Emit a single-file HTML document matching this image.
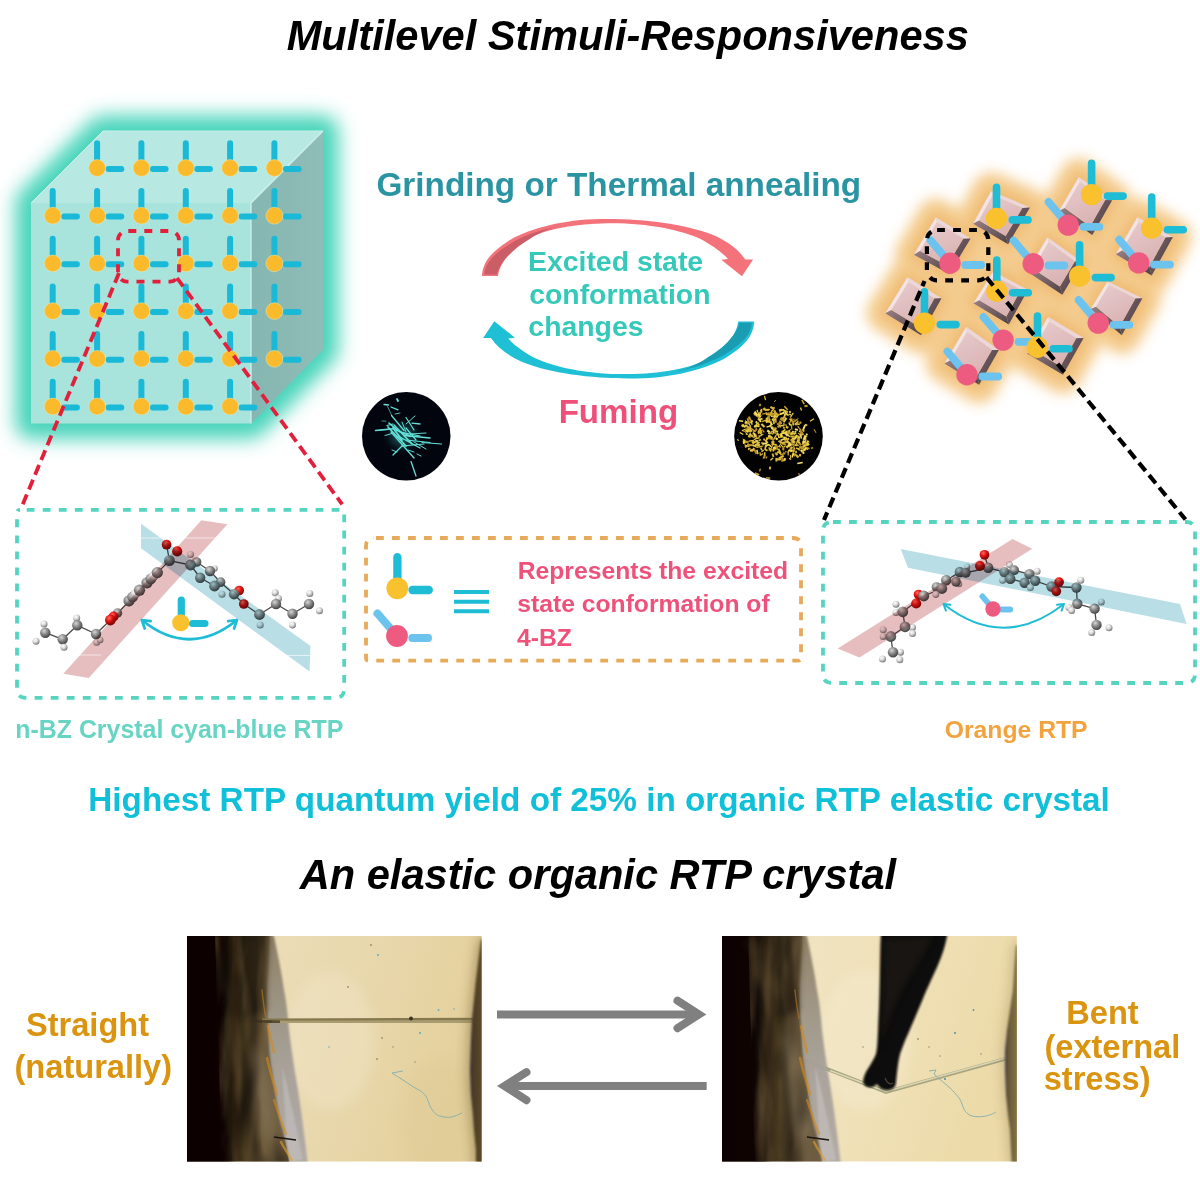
<!DOCTYPE html>
<html lang="en"><head><meta charset="utf-8"><title>Multilevel Stimuli-Responsiveness</title>
<style>
html,body{margin:0;padding:0;background:#fff;}
body{width:1200px;height:1200px;overflow:hidden;position:relative;font-family:"Liberation Sans",sans-serif;}
svg{display:block;position:absolute;left:0;top:0;}
text{font-family:"Liberation Sans",sans-serif;font-weight:bold;}
.ti{font-style:italic;font-size:41.6px;fill:#000;}
</style></head><body>
<svg width="1200" height="1200" viewBox="0 0 1200 1200">
<defs>
<filter id="cglow" x="-20%" y="-20%" width="140%" height="140%"><feGaussianBlur stdDeviation="9.5"/></filter>
<linearGradient id="rface" x1="0" y1="0" x2="1" y2="0"><stop offset="0" stop-color="#86B6B1"/><stop offset="1" stop-color="#8FBDB8"/></linearGradient>
</defs>
<g id="cube">
<polygon points="31,203 103,131 323,131 323,350 251,423.5 31,423.5" fill="#46D4BA" stroke="#46D4BA" stroke-width="31" stroke-linejoin="round" filter="url(#cglow)"/>
<polygon points="31,203 103,131 323,131 251,203" fill="#B7E8E2"/>
<polygon points="31,203 251,203 251,423.5 31,423.5" fill="#A8E3DC"/>
<polygon points="251,203 323,131 323,350 251,423.5" fill="url(#rface)"/>
<polyline points="31,203 103,131 323,131" fill="none" stroke="#C9F0EA" stroke-width="1"/>
<polyline points="251,423.5 251,203 323,131" fill="none" stroke="#CFF0EB" stroke-width="1.3"/>
<path d="M97.1,143.3V168.0M108.6,168.9H121.3M141.4,143.3V168.0M152.9,168.9H165.6M185.8,143.3V168.0M197.2,168.9H209.9M230.1,143.3V168.0M241.6,168.9H254.3M274.4,143.3V168.0M285.9,168.9H298.6M52.7,191.0V215.7M64.2,216.6H76.9M97.1,191.0V215.7M108.6,216.6H121.3M141.4,191.0V215.7M152.9,216.6H165.6M185.8,191.0V215.7M197.2,216.6H209.9M230.1,191.0V215.7M241.6,216.6H254.3M274.4,191.0V215.7M285.9,216.6H298.6M52.7,238.7V263.4M64.2,264.3H76.9M97.1,238.7V263.4M108.6,264.3H121.3M141.4,238.7V263.4M152.9,264.3H165.6M185.8,238.7V263.4M197.2,264.3H209.9M230.1,238.7V263.4M241.6,264.3H254.3M274.4,238.7V263.4M285.9,264.3H298.6M52.7,286.4V311.1M64.2,312.0H76.9M97.1,286.4V311.1M108.6,312.0H121.3M141.4,286.4V311.1M152.9,312.0H165.6M185.8,286.4V311.1M197.2,312.0H209.9M230.1,286.4V311.1M241.6,312.0H254.3M274.4,286.4V311.1M285.9,312.0H298.6M52.7,334.1V358.8M64.2,359.7H76.9M97.1,334.1V358.8M108.6,359.7H121.3M141.4,334.1V358.8M152.9,359.7H165.6M185.8,334.1V358.8M197.2,359.7H209.9M230.1,334.1V358.8M241.6,359.7H254.3M274.4,334.1V358.8M285.9,359.7H298.6M52.7,381.8V406.5M64.2,407.4H76.9M97.1,381.8V406.5M108.6,407.4H121.3M141.4,381.8V406.5M152.9,407.4H165.6M185.8,381.8V406.5M197.2,407.4H209.9M230.1,381.8V406.5M241.6,407.4H254.3" stroke="#19B9D7" stroke-width="6" stroke-linecap="round" fill="none"/>
<g fill="#FBB92C" stroke="#E9F3C0" stroke-opacity="0.55" stroke-width="0.8"><circle cx="97.1" cy="168.0" r="8.4"/><circle cx="141.4" cy="168.0" r="8.4"/><circle cx="185.8" cy="168.0" r="8.4"/><circle cx="230.1" cy="168.0" r="8.4"/><circle cx="274.4" cy="168.0" r="8.4"/><circle cx="52.7" cy="215.7" r="8.4"/><circle cx="97.1" cy="215.7" r="8.4"/><circle cx="141.4" cy="215.7" r="8.4"/><circle cx="185.8" cy="215.7" r="8.4"/><circle cx="230.1" cy="215.7" r="8.4"/><circle cx="274.4" cy="215.7" r="8.4"/><circle cx="52.7" cy="263.4" r="8.4"/><circle cx="97.1" cy="263.4" r="8.4"/><circle cx="141.4" cy="263.4" r="8.4"/><circle cx="185.8" cy="263.4" r="8.4"/><circle cx="230.1" cy="263.4" r="8.4"/><circle cx="274.4" cy="263.4" r="8.4"/><circle cx="52.7" cy="311.1" r="8.4"/><circle cx="97.1" cy="311.1" r="8.4"/><circle cx="141.4" cy="311.1" r="8.4"/><circle cx="185.8" cy="311.1" r="8.4"/><circle cx="230.1" cy="311.1" r="8.4"/><circle cx="274.4" cy="311.1" r="8.4"/><circle cx="52.7" cy="358.8" r="8.4"/><circle cx="97.1" cy="358.8" r="8.4"/><circle cx="141.4" cy="358.8" r="8.4"/><circle cx="185.8" cy="358.8" r="8.4"/><circle cx="230.1" cy="358.8" r="8.4"/><circle cx="274.4" cy="358.8" r="8.4"/><circle cx="52.7" cy="406.5" r="8.4"/><circle cx="97.1" cy="406.5" r="8.4"/><circle cx="141.4" cy="406.5" r="8.4"/><circle cx="185.8" cy="406.5" r="8.4"/><circle cx="230.1" cy="406.5" r="8.4"/></g>
<g fill="none" stroke="#E2203C" stroke-width="3.8">
<rect x="118" y="231" width="61" height="50.7" rx="9" ry="9" stroke-dasharray="8 8" stroke-dashoffset="-1.3"/>
<path d="M119,273L22.5,505" stroke-dasharray="10.5 5.5"/>
<path d="M177,278L342.2,504.4" stroke-dasharray="10.5 5.5"/>
</g>
</g>
<defs><clipPath id="cl1"><circle cx="406.25" cy="436.25" r="44.25"/></clipPath><clipPath id="cl2"><circle cx="778.5" cy="436.25" r="44.3"/></clipPath>
<filter id="b1" x="-30%" y="-30%" width="160%" height="160%"><feGaussianBlur stdDeviation="0.45"/></filter><filter id="b3" x="-50%" y="-50%" width="200%" height="200%"><feGaussianBlur stdDeviation="4"/></filter></defs>
<g id="cycle">
<path d="M482,276 C482.5,262 492,251 510,240 C530,228 565,219.5 600,219 C640,218.2 685,223.8 712,234.6 C728,241.6 738,249.2 745.25,259.4 L753.1,259.4 L741.9,276.25 L721.3,259.75 L728,259 C722,252 712,245.5 702.5,240 C682,230 648,223.3 612,223.3 C585,223.3 550,227 530,238 C515,246.5 500,260 498,276 Z" fill="#F4737B"/>
<path d="M484.3,274.6 C485,263 494,253.5 511.5,243 C525,235 543,229 562,225.6 C548,228.5 538,233.5 530.5,238.6 C516,247 500,260.5 496.8,274.6 Z" fill="#CB5D66"/>
<g transform="rotate(180 618.1 298.7)"><path d="M482,276 C482.5,262 492,251 510,240 C530,228 565,219.5 600,219 C640,218.2 685,223.8 712,234.6 C728,241.6 738,249.2 745.25,259.4 L753.1,259.4 L741.9,276.25 L721.3,259.75 L728,259 C722,252 712,245.5 702.5,240 C682,230 648,223.3 612,223.3 C585,223.3 550,227 530,238 C515,246.5 500,260 498,276 Z" fill="#1FBFD6"/>
<path d="M484.3,274.6 C485,263 494,253.5 511.5,243 C525,235 543,229 562,225.6 C548,228.5 538,233.5 530.5,238.6 C516,247 500,260.5 496.8,274.6 Z" fill="#1A9DB2"/>
</g>
</g>
<g id="cyanCrystals"><circle cx="406.25" cy="436.25" r="44.25" fill="#03050E"/>
<g clip-path="url(#cl1)"><ellipse cx="403" cy="436" rx="13" ry="11" fill="#3FCFC8" opacity="0.35" filter="url(#b3)"/><g stroke="#63E2D9" stroke-linecap="round" fill="none" filter="url(#b1)"><path d="M384.0,404.5L388.5,405.0" stroke-width="1.28"/><path d="M391.0,407.0L398.0,409.8" stroke-width="1.28"/><path d="M387.5,406.5L392.0,416.0" stroke-width="0.64"/><path d="M391.5,415.5L404.0,430.5" stroke-width="1.20"/><path d="M395.0,414.0L400.0,413.0" stroke-width="0.80"/><path d="M406.0,417.5L414.0,430.0" stroke-width="1.20"/><path d="M406.0,424.0L415.0,416.0" stroke-width="0.96"/><path d="M412.0,423.2L420.0,424.0" stroke-width="1.28"/><path d="M382.0,421.0L386.0,421.2" stroke-width="0.64"/><path d="M375.5,430.5L393.0,428.8" stroke-width="1.44"/><path d="M387.0,425.5L393.0,424.0" stroke-width="1.20"/><path d="M385.0,435.5L392.0,433.5" stroke-width="0.96"/><path d="M388.0,427.0L406.0,446.0" stroke-width="1.76"/><path d="M391.0,432.0L414.0,458.0" stroke-width="1.28"/><path d="M394.0,425.0L412.0,444.0" stroke-width="1.60"/><path d="M400.0,432.0L420.0,436.0" stroke-width="1.20"/><path d="M404.0,435.5L430.0,438.0" stroke-width="1.44"/><path d="M406.0,440.0L430.0,442.5" stroke-width="1.20"/><path d="M422.0,442.5L441.5,444.0" stroke-width="1.12"/><path d="M402.0,446.0L424.0,444.0" stroke-width="1.20"/><path d="M410.0,434.0L426.0,433.0" stroke-width="0.96"/><path d="M393.0,455.0L403.0,445.0" stroke-width="1.20"/><path d="M392.0,450.0L397.0,452.0" stroke-width="0.96"/><path d="M411.0,461.5L416.0,476.0" stroke-width="1.28"/><path d="M408.0,450.0L414.0,452.0" stroke-width="0.96"/><path d="M417.0,454.0L421.0,456.0" stroke-width="0.96"/><path d="M397.0,399.0L398.0,401.0" stroke-width="1.76"/><path d="M406.0,428.0L416.0,440.0" stroke-width="1.20"/><path d="M398.0,436.0L420.0,448.0" stroke-width="1.28"/><path d="M414.0,442.0L426.0,449.0" stroke-width="0.96"/><path d="M389.0,423.0L397.0,430.0" stroke-width="1.60"/><path d="M393.0,428.0L402.0,440.0" stroke-width="1.76"/><path d="M396.0,430.0L410.0,436.0" stroke-width="1.60"/><path d="M402.0,422.0L406.0,432.0" stroke-width="0.96"/><path d="M380.0,430.0L388.0,429.5" stroke-width="1.12"/></g></g></g>
<g id="yellowCrystals"><circle cx="778.5" cy="436.25" r="44.3" fill="#020202"/>
<g clip-path="url(#cl2)" filter="url(#b1)"><path d="M765.5,441.2L767.9,442.9" stroke="#E6C436" stroke-width="2.1"/><path d="M773.0,426.9L772.0,429.2" stroke="#DDB840" stroke-width="1.8"/><path d="M755.5,428.1L757.1,428.3" stroke="#E6C436" stroke-width="1.1"/><path d="M798.1,441.9L801.2,445.2" stroke="#B58A2A" stroke-width="2.1"/><path d="M797.5,439.5L798.7,442.1" stroke="#E6C436" stroke-width="2.1"/><path d="M785.1,437.1L788.1,440.3" stroke="#E8CE48" stroke-width="1.4"/><path d="M743.8,439.4L746.4,443.0" stroke="#D9B02E" stroke-width="1.7"/><path d="M788.2,444.3L790.7,444.4" stroke="#F3E070" stroke-width="1.6"/><path d="M756.5,413.2L753.4,413.6" stroke="#DDB840" stroke-width="1.3"/><path d="M759.4,423.8L757.7,425.0" stroke="#E6C436" stroke-width="1.6"/><path d="M783.2,432.6L779.6,435.2" stroke="#F0D955" stroke-width="2.0"/><path d="M784.1,422.8L783.1,425.5" stroke="#B58A2A" stroke-width="1.4"/><path d="M786.6,441.0L783.6,443.5" stroke="#DDB840" stroke-width="1.6"/><path d="M762.8,453.5L761.1,455.2" stroke="#E6C436" stroke-width="1.1"/><path d="M788.1,451.7L788.3,455.4" stroke="#DDB840" stroke-width="1.2"/><path d="M767.2,419.6L762.1,421.6" stroke="#D9B02E" stroke-width="1.3"/><path d="M767.3,430.3L769.8,432.3" stroke="#F3E070" stroke-width="2.2"/><path d="M790.5,439.8L792.3,440.8" stroke="#C29A2C" stroke-width="1.6"/><path d="M769.6,416.0L766.2,419.5" stroke="#D9B02E" stroke-width="1.8"/><path d="M763.7,450.0L761.6,451.7" stroke="#E8CE48" stroke-width="1.3"/><path d="M754.7,433.7L756.4,437.8" stroke="#C29A2C" stroke-width="1.2"/><path d="M780.2,413.2L782.3,414.5" stroke="#C29A2C" stroke-width="1.3"/><path d="M775.4,452.5L777.0,455.2" stroke="#C29A2C" stroke-width="2.2"/><path d="M745.0,425.7L744.1,427.4" stroke="#E6C436" stroke-width="1.6"/><path d="M771.8,419.4L775.0,420.5" stroke="#F3E070" stroke-width="2.0"/><path d="M786.7,434.0L785.1,434.4" stroke="#D9B02E" stroke-width="1.4"/><path d="M744.7,441.4L748.6,442.0" stroke="#C29A2C" stroke-width="2.0"/><path d="M793.0,450.5L790.1,451.2" stroke="#F3E070" stroke-width="2.0"/><path d="M804.1,440.4L802.6,444.8" stroke="#E6C436" stroke-width="1.8"/><path d="M775.0,414.0L778.6,415.3" stroke="#C29A2C" stroke-width="1.7"/><path d="M784.1,424.8L786.9,425.2" stroke="#E8CE48" stroke-width="1.1"/><path d="M765.9,414.0L770.3,414.6" stroke="#E6C436" stroke-width="2.1"/><path d="M758.7,422.6L756.1,424.3" stroke="#E8CE48" stroke-width="1.4"/><path d="M789.2,414.3L790.8,414.7" stroke="#F3E070" stroke-width="1.6"/><path d="M745.8,433.8L747.6,434.2" stroke="#F0D955" stroke-width="1.5"/><path d="M803.9,444.7L803.1,446.4" stroke="#E8CE48" stroke-width="1.2"/><path d="M757.1,409.9L757.8,412.5" stroke="#E6C436" stroke-width="1.4"/><path d="M779.5,420.6L781.6,423.8" stroke="#DDB840" stroke-width="1.4"/><path d="M748.8,445.0L753.4,445.2" stroke="#C29A2C" stroke-width="2.0"/><path d="M798.2,437.9L799.2,440.8" stroke="#DDB840" stroke-width="2.1"/><path d="M784.8,442.3L781.8,443.2" stroke="#DDB840" stroke-width="2.0"/><path d="M805.2,444.4L804.4,447.3" stroke="#F0D955" stroke-width="1.9"/><path d="M787.8,445.1L791.5,445.2" stroke="#DDB840" stroke-width="1.8"/><path d="M745.6,445.5L749.4,446.6" stroke="#F0D955" stroke-width="1.4"/><path d="M796.3,444.6L798.7,445.7" stroke="#D9B02E" stroke-width="1.6"/><path d="M744.7,422.5L748.0,423.7" stroke="#C29A2C" stroke-width="2.0"/><path d="M784.6,411.4L787.4,415.4" stroke="#F3E070" stroke-width="1.1"/><path d="M769.0,448.3L771.1,451.5" stroke="#D9B02E" stroke-width="1.8"/><path d="M753.8,449.6L750.0,450.8" stroke="#F0D955" stroke-width="2.0"/><path d="M787.3,430.5L785.2,434.9" stroke="#C29A2C" stroke-width="1.7"/><path d="M785.7,445.8L783.8,446.9" stroke="#DDB840" stroke-width="1.3"/><path d="M779.1,452.2L777.1,452.6" stroke="#F0D955" stroke-width="1.4"/><path d="M761.4,423.9L764.5,427.0" stroke="#E6C436" stroke-width="2.1"/><path d="M799.4,436.2L794.9,438.0" stroke="#B58A2A" stroke-width="1.8"/><path d="M752.8,445.2L756.4,446.6" stroke="#E8CE48" stroke-width="1.7"/><path d="M801.0,429.5L799.8,432.0" stroke="#DDB840" stroke-width="1.3"/><path d="M749.8,427.4L748.2,430.3" stroke="#E6C436" stroke-width="1.5"/><path d="M771.1,428.4L776.6,428.5" stroke="#F3E070" stroke-width="1.6"/><path d="M798.1,421.5L794.7,424.6" stroke="#F0D955" stroke-width="1.5"/><path d="M794.7,418.9L792.1,420.6" stroke="#B58A2A" stroke-width="1.1"/><path d="M755.1,441.0L755.5,442.8" stroke="#E6C436" stroke-width="1.5"/><path d="M798.4,449.3L800.4,449.6" stroke="#B58A2A" stroke-width="2.1"/><path d="M786.6,436.7L783.9,438.9" stroke="#DDB840" stroke-width="1.1"/><path d="M781.1,442.7L778.9,446.8" stroke="#D9B02E" stroke-width="1.0"/><path d="M770.3,438.2L765.9,438.2" stroke="#C29A2C" stroke-width="2.0"/><path d="M785.9,434.6L790.5,436.6" stroke="#F0D955" stroke-width="1.3"/><path d="M795.6,443.8L793.1,447.5" stroke="#B58A2A" stroke-width="1.3"/><path d="M807.8,440.6L806.9,442.9" stroke="#E8CE48" stroke-width="1.4"/><path d="M769.7,426.1L766.5,427.1" stroke="#F3E070" stroke-width="1.3"/><path d="M773.6,448.5L775.6,450.1" stroke="#B58A2A" stroke-width="1.6"/><path d="M763.7,438.5L764.6,440.6" stroke="#E8CE48" stroke-width="1.5"/><path d="M793.3,412.8L790.5,417.1" stroke="#E8CE48" stroke-width="1.2"/><path d="M749.0,434.3L752.3,435.6" stroke="#B58A2A" stroke-width="1.8"/><path d="M788.6,439.5L785.3,439.9" stroke="#D9B02E" stroke-width="1.6"/><path d="M761.3,442.4L763.9,445.0" stroke="#B58A2A" stroke-width="2.0"/><path d="M777.1,423.3L780.8,427.3" stroke="#B58A2A" stroke-width="1.7"/><path d="M808.2,440.9L809.1,442.5" stroke="#E6C436" stroke-width="1.3"/><path d="M762.2,429.4L764.3,432.3" stroke="#B58A2A" stroke-width="1.4"/><path d="M772.7,430.7L769.7,434.1" stroke="#E8CE48" stroke-width="1.3"/><path d="M743.5,424.1L742.4,427.1" stroke="#E6C436" stroke-width="1.6"/><path d="M789.5,419.0L791.7,419.9" stroke="#E6C436" stroke-width="1.8"/><path d="M771.3,449.2L775.0,449.8" stroke="#B58A2A" stroke-width="1.4"/><path d="M792.6,454.3L792.3,457.5" stroke="#F0D955" stroke-width="1.4"/><path d="M745.2,424.8L748.4,427.1" stroke="#F0D955" stroke-width="1.6"/><path d="M762.4,443.4L767.1,443.6" stroke="#F3E070" stroke-width="1.8"/><path d="M783.7,410.8L787.6,412.0" stroke="#E8CE48" stroke-width="2.0"/><path d="M790.1,416.0L790.9,418.4" stroke="#B58A2A" stroke-width="1.0"/><path d="M785.5,413.0L784.3,416.7" stroke="#F3E070" stroke-width="1.7"/><path d="M777.6,451.2L781.2,454.8" stroke="#E6C436" stroke-width="1.1"/><path d="M768.2,435.5L768.9,437.9" stroke="#D9B02E" stroke-width="1.1"/><path d="M791.9,438.6L795.6,438.7" stroke="#F0D955" stroke-width="2.1"/><path d="M772.5,453.6L773.5,457.1" stroke="#DDB840" stroke-width="1.8"/><path d="M796.3,431.1L794.4,432.4" stroke="#E8CE48" stroke-width="1.4"/><path d="M805.1,425.0L803.0,430.1" stroke="#F3E070" stroke-width="1.9"/><path d="M793.6,431.2L792.6,432.4" stroke="#F3E070" stroke-width="2.0"/><path d="M777.1,446.1L781.1,447.2" stroke="#D9B02E" stroke-width="1.2"/><path d="M780.5,444.4L783.3,447.4" stroke="#E8CE48" stroke-width="1.1"/><path d="M755.8,413.3L754.3,415.3" stroke="#DDB840" stroke-width="1.7"/><path d="M786.4,417.9L783.5,422.2" stroke="#E8CE48" stroke-width="2.2"/><path d="M761.6,410.8L759.3,415.6" stroke="#E6C436" stroke-width="1.3"/><path d="M799.2,446.6L803.6,449.2" stroke="#C29A2C" stroke-width="2.0"/><path d="M799.9,424.0L795.4,424.8" stroke="#DDB840" stroke-width="1.4"/><path d="M774.4,415.0L775.6,417.1" stroke="#F3E070" stroke-width="2.1"/><path d="M790.3,454.9L790.6,458.5" stroke="#E6C436" stroke-width="1.0"/><path d="M756.9,449.9L757.8,454.2" stroke="#E8CE48" stroke-width="1.7"/><path d="M796.2,432.6L793.8,434.4" stroke="#F0D955" stroke-width="1.7"/><path d="M744.5,444.8L746.0,445.5" stroke="#F0D955" stroke-width="1.1"/><path d="M773.2,422.3L774.2,424.2" stroke="#E6C436" stroke-width="1.0"/><path d="M785.4,441.8L789.1,443.6" stroke="#D9B02E" stroke-width="1.1"/><path d="M798.0,422.9L796.8,424.2" stroke="#B58A2A" stroke-width="1.7"/><path d="M794.5,453.8L798.8,456.9" stroke="#D9B02E" stroke-width="1.6"/><path d="M803.7,433.8L799.5,435.4" stroke="#DDB840" stroke-width="1.9"/><path d="M756.2,447.0L758.4,447.8" stroke="#E6C436" stroke-width="1.1"/><path d="M783.3,436.6L778.2,437.4" stroke="#D9B02E" stroke-width="1.9"/><path d="M802.6,432.2L799.2,434.3" stroke="#D9B02E" stroke-width="1.3"/><path d="M741.5,425.1L745.7,427.0" stroke="#E8CE48" stroke-width="1.8"/><path d="M742.9,438.7L744.6,441.4" stroke="#E8CE48" stroke-width="1.0"/><path d="M780.6,423.8L778.9,424.2" stroke="#B58A2A" stroke-width="1.9"/><path d="M776.2,446.7L773.3,449.3" stroke="#E8CE48" stroke-width="1.6"/><path d="M777.2,453.3L776.6,454.9" stroke="#DDB840" stroke-width="1.5"/><path d="M773.4,449.7L773.3,451.5" stroke="#E6C436" stroke-width="1.6"/><path d="M800.2,454.0L799.9,456.4" stroke="#D9B02E" stroke-width="2.0"/><path d="M758.4,444.7L757.8,447.3" stroke="#C29A2C" stroke-width="1.5"/><path d="M748.2,416.8L751.0,420.4" stroke="#B58A2A" stroke-width="1.1"/><path d="M743.8,440.4L743.9,443.9" stroke="#F0D955" stroke-width="2.0"/><path d="M752.2,430.6L748.3,431.0" stroke="#E8CE48" stroke-width="2.1"/><path d="M771.5,432.0L771.0,434.1" stroke="#C29A2C" stroke-width="2.0"/><path d="M759.4,435.2L759.4,437.2" stroke="#D9B02E" stroke-width="1.8"/><path d="M805.5,435.5L805.6,441.0" stroke="#D9B02E" stroke-width="1.7"/><path d="M789.0,450.1L787.9,452.8" stroke="#DDB840" stroke-width="1.5"/><path d="M774.1,413.7L769.9,415.2" stroke="#E6C436" stroke-width="1.5"/><path d="M760.8,447.7L761.8,450.2" stroke="#F0D955" stroke-width="1.5"/><path d="M747.7,420.6L749.6,425.3" stroke="#F3E070" stroke-width="1.3"/><path d="M796.1,448.0L799.7,449.5" stroke="#E6C436" stroke-width="1.8"/><path d="M774.6,446.5L775.9,449.0" stroke="#F3E070" stroke-width="1.2"/><path d="M778.6,414.0L776.5,417.9" stroke="#F3E070" stroke-width="1.2"/><path d="M750.4,421.3L749.0,423.4" stroke="#B58A2A" stroke-width="1.3"/><path d="M791.3,424.4L791.9,429.5" stroke="#C29A2C" stroke-width="1.3"/><path d="M758.1,418.5L761.1,421.8" stroke="#F0D955" stroke-width="2.0"/><path d="M749.0,427.0L745.5,431.1" stroke="#B58A2A" stroke-width="1.9"/><path d="M748.4,435.9L750.8,437.2" stroke="#D9B02E" stroke-width="1.2"/><path d="M739.7,432.4L743.3,434.5" stroke="#F0D955" stroke-width="1.2"/><path d="M769.1,409.8L764.5,410.0" stroke="#DDB840" stroke-width="1.9"/><path d="M788.6,430.3L789.8,431.7" stroke="#E8CE48" stroke-width="2.1"/><path d="M745.1,420.4L747.5,422.3" stroke="#DDB840" stroke-width="1.0"/><path d="M780.5,425.6L777.6,427.1" stroke="#E8CE48" stroke-width="1.3"/><path d="M794.2,447.3L794.4,449.3" stroke="#DDB840" stroke-width="1.7"/><path d="M791.1,441.7L793.6,441.7" stroke="#DDB840" stroke-width="2.0"/><path d="M804.2,445.7L800.5,447.7" stroke="#C29A2C" stroke-width="1.8"/><path d="M781.7,408.9L779.5,412.3" stroke="#B58A2A" stroke-width="1.5"/><path d="M792.6,452.9L795.5,456.0" stroke="#C29A2C" stroke-width="2.1"/><path d="M772.5,423.8L769.2,426.6" stroke="#E8CE48" stroke-width="1.8"/><path d="M798.3,418.7L795.3,420.2" stroke="#DDB840" stroke-width="1.0"/><path d="M782.5,457.7L782.3,461.9" stroke="#B58A2A" stroke-width="2.0"/><path d="M754.3,441.2L751.9,443.2" stroke="#D9B02E" stroke-width="1.6"/><path d="M803.8,435.9L807.4,436.4" stroke="#C29A2C" stroke-width="1.2"/><path d="M789.5,449.3L789.4,451.2" stroke="#C29A2C" stroke-width="1.7"/><path d="M757.0,428.8L754.8,431.6" stroke="#B58A2A" stroke-width="1.8"/><path d="M783.4,447.3L783.2,450.4" stroke="#C29A2C" stroke-width="2.1"/><path d="M776.3,430.4L774.1,430.5" stroke="#D9B02E" stroke-width="1.6"/><path d="M756.9,424.4L754.3,427.4" stroke="#E8CE48" stroke-width="1.8"/><path d="M794.1,436.9L796.1,439.3" stroke="#DDB840" stroke-width="1.0"/><path d="M762.6,418.7L758.7,419.7" stroke="#E8CE48" stroke-width="1.8"/><path d="M806.9,447.7L809.5,448.6" stroke="#C29A2C" stroke-width="1.5"/><path d="M784.3,409.9L778.9,410.0" stroke="#F0D955" stroke-width="1.6"/><path d="M789.6,443.3L793.9,445.1" stroke="#C29A2C" stroke-width="2.0"/><path d="M805.3,441.4L805.7,445.2" stroke="#F0D955" stroke-width="1.3"/><path d="M771.8,441.2L773.6,444.8" stroke="#DDB840" stroke-width="2.0"/><path d="M743.7,440.6L744.0,443.2" stroke="#F0D955" stroke-width="1.7"/><path d="M781.3,421.5L778.7,423.7" stroke="#C29A2C" stroke-width="1.9"/><path d="M796.1,455.6L798.1,457.9" stroke="#DDB840" stroke-width="1.3"/><path d="M752.5,420.4L750.7,423.3" stroke="#E8CE48" stroke-width="2.0"/><path d="M783.7,436.6L785.5,440.3" stroke="#F3E070" stroke-width="1.4"/><path d="M768.3,415.6L769.2,419.5" stroke="#B58A2A" stroke-width="1.8"/><path d="M805.7,448.3L808.2,449.5" stroke="#D9B02E" stroke-width="1.5"/><path d="M760.0,413.2L755.6,415.8" stroke="#F0D955" stroke-width="1.9"/><path d="M804.9,448.2L804.7,451.1" stroke="#E6C436" stroke-width="1.7"/><path d="M805.4,447.0L806.8,448.1" stroke="#D9B02E" stroke-width="1.4"/><path d="M755.0,433.5L753.8,438.2" stroke="#F3E070" stroke-width="1.2"/><path d="M745.4,421.4L746.4,423.3" stroke="#F0D955" stroke-width="2.1"/><path d="M773.7,441.0L772.2,445.0" stroke="#D9B02E" stroke-width="2.2"/><path d="M760.9,427.8L758.3,432.2" stroke="#E8CE48" stroke-width="1.9"/><path d="M786.8,441.0L790.2,443.5" stroke="#F3E070" stroke-width="1.6"/><path d="M791.8,438.7L790.8,440.4" stroke="#DDB840" stroke-width="1.1"/><path d="M765.0,445.5L766.5,446.9" stroke="#E6C436" stroke-width="1.6"/><path d="M775.6,417.6L775.9,422.7" stroke="#C29A2C" stroke-width="1.8"/><path d="M760.7,430.4L760.7,434.1" stroke="#E6C436" stroke-width="2.0"/><path d="M768.3,435.5L770.8,436.9" stroke="#F3E070" stroke-width="1.8"/><path d="M776.2,435.1L773.8,439.3" stroke="#DDB840" stroke-width="1.4"/><path d="M775.1,414.6L770.9,414.6" stroke="#B58A2A" stroke-width="1.2"/><path d="M786.1,451.2L785.4,452.7" stroke="#B58A2A" stroke-width="1.7"/><path d="M783.7,431.0L782.2,432.1" stroke="#F0D955" stroke-width="1.6"/><path d="M779.9,419.1L784.3,419.6" stroke="#B58A2A" stroke-width="1.8"/><path d="M741.8,430.4L745.7,431.6" stroke="#C29A2C" stroke-width="1.4"/><path d="M752.2,441.8L754.0,444.0" stroke="#E6C436" stroke-width="1.3"/><path d="M765.4,408.2L763.1,409.6" stroke="#DDB840" stroke-width="2.0"/><path d="M753.8,449.1L756.5,453.8" stroke="#B58A2A" stroke-width="2.0"/><path d="M771.3,413.2L767.2,413.5" stroke="#B58A2A" stroke-width="2.0"/><path d="M753.9,439.1L757.4,441.6" stroke="#D9B02E" stroke-width="1.2"/><path d="M789.1,438.2L787.8,439.3" stroke="#DDB840" stroke-width="1.9"/><path d="M803.9,446.2L803.6,447.9" stroke="#E6C436" stroke-width="1.4"/><path d="M771.9,444.1L776.7,444.8" stroke="#E6C436" stroke-width="1.6"/><path d="M806.5,448.0L802.5,451.2" stroke="#F0D955" stroke-width="1.7"/><path d="M792.0,418.5L790.3,422.4" stroke="#D9B02E" stroke-width="1.7"/><path d="M768.9,444.7L772.1,447.3" stroke="#F0D955" stroke-width="1.5"/><path d="M766.2,449.7L768.4,450.4" stroke="#D9B02E" stroke-width="1.0"/><path d="M792.2,449.8L788.2,450.9" stroke="#F0D955" stroke-width="1.4"/><path d="M773.2,457.9L770.3,460.2" stroke="#E8CE48" stroke-width="1.3"/><path d="M798.1,433.1L799.4,434.0" stroke="#E6C436" stroke-width="1.0"/><path d="M776.4,457.9L776.4,461.5" stroke="#DDB840" stroke-width="2.0"/><path d="M766.1,444.8L764.9,449.8" stroke="#E6C436" stroke-width="1.5"/><path d="M797.1,435.0L795.0,438.3" stroke="#F0D955" stroke-width="2.2"/><path d="M750.1,432.4L750.4,435.5" stroke="#F3E070" stroke-width="1.1"/><path d="M783.2,452.0L784.9,453.3" stroke="#E6C436" stroke-width="1.0"/><path d="M790.6,436.5L794.7,436.6" stroke="#D9B02E" stroke-width="2.2"/><path d="M795.1,444.7L796.6,445.9" stroke="#E8CE48" stroke-width="1.6"/><path d="M782.2,434.8L780.6,436.7" stroke="#F0D955" stroke-width="1.9"/><path d="M769.1,444.6L766.2,445.3" stroke="#F0D955" stroke-width="1.9"/><path d="M757.0,421.4L755.8,422.8" stroke="#F3E070" stroke-width="1.8"/><path d="M774.8,410.3L775.4,415.5" stroke="#E6C436" stroke-width="1.3"/><path d="M770.0,408.9L769.0,410.1" stroke="#D9B02E" stroke-width="1.0"/><path d="M756.7,440.1L757.6,442.6" stroke="#F3E070" stroke-width="1.7"/><path d="M788.0,433.2L787.0,435.8" stroke="#F3E070" stroke-width="2.1"/><path d="M771.4,411.9L771.7,414.1" stroke="#D9B02E" stroke-width="2.2"/><path d="M805.6,442.4L807.3,446.1" stroke="#DDB840" stroke-width="1.8"/><path d="M792.9,420.9L793.2,425.5" stroke="#E8CE48" stroke-width="1.5"/><path d="M774.0,409.2L771.0,411.6" stroke="#E6C436" stroke-width="1.4"/><path d="M794.5,448.8L793.0,452.6" stroke="#B58A2A" stroke-width="2.0"/><path d="M746.1,428.8L742.1,430.5" stroke="#F0D955" stroke-width="1.0"/><path d="M783.9,411.5L783.1,414.1" stroke="#C29A2C" stroke-width="1.5"/><path d="M749.1,416.6L750.7,420.6" stroke="#C29A2C" stroke-width="1.7"/><path d="M766.7,412.4L764.6,413.9" stroke="#E8CE48" stroke-width="1.0"/><path d="M775.8,437.9L777.2,439.5" stroke="#E6C436" stroke-width="2.1"/><path d="M791.0,446.8L792.3,448.4" stroke="#F0D955" stroke-width="2.1"/><path d="M800.9,450.0L804.1,453.7" stroke="#F3E070" stroke-width="2.0"/><path d="M751.4,423.0L752.3,424.6" stroke="#DDB840" stroke-width="1.7"/><path d="M756.5,415.4L760.1,418.0" stroke="#C29A2C" stroke-width="2.1"/><path d="M772.2,433.1L773.1,434.5" stroke="#C29A2C" stroke-width="1.5"/><path d="M783.9,412.9L780.1,413.8" stroke="#DDB840" stroke-width="1.0"/><path d="M750.1,429.8L750.4,431.6" stroke="#D9B02E" stroke-width="2.0"/><path d="M771.6,426.9L774.4,429.4" stroke="#B58A2A" stroke-width="2.1"/><path d="M773.9,419.0L774.2,422.8" stroke="#C29A2C" stroke-width="1.2"/><path d="M790.8,441.5L795.3,442.9" stroke="#B58A2A" stroke-width="1.3"/><path d="M773.2,420.5L774.3,423.9" stroke="#E6C436" stroke-width="1.2"/><path d="M774.9,407.7L771.6,408.6" stroke="#B58A2A" stroke-width="2.0"/><path d="M754.7,429.9L752.8,434.2" stroke="#E6C436" stroke-width="1.2"/><path d="M745.5,431.8L747.2,435.0" stroke="#E6C436" stroke-width="1.0"/><path d="M775.2,412.5L779.2,415.5" stroke="#C29A2C" stroke-width="1.7"/><path d="M770.4,426.3L773.6,429.7" stroke="#F3E070" stroke-width="1.5"/><path d="M790.0,444.5L786.4,447.6" stroke="#E8CE48" stroke-width="2.2"/><path d="M775.7,418.9L773.2,420.3" stroke="#DDB840" stroke-width="2.2"/><path d="M773.0,432.4L774.6,432.9" stroke="#F3E070" stroke-width="1.7"/><path d="M793.3,438.8L793.5,443.7" stroke="#DDB840" stroke-width="2.1"/><path d="M766.3,413.1L762.1,414.1" stroke="#B58A2A" stroke-width="1.1"/><path d="M769.6,418.8L768.8,422.8" stroke="#DDB840" stroke-width="2.1"/><path d="M750.5,428.1L754.6,430.8" stroke="#C29A2C" stroke-width="1.4"/><path d="M763.5,434.3L761.1,434.4" stroke="#E8CE48" stroke-width="1.0"/><path d="M784.8,427.7L783.1,428.0" stroke="#E6C436" stroke-width="1.7"/><path d="M807.5,434.0L806.0,434.8" stroke="#F3E070" stroke-width="1.9"/><path d="M797.5,438.6L799.6,438.9" stroke="#C29A2C" stroke-width="1.9"/><path d="M787.6,411.1L786.2,413.4" stroke="#D9B02E" stroke-width="1.7"/><path d="M756.3,434.5L756.6,437.5" stroke="#B58A2A" stroke-width="1.5"/><path d="M784.6,458.6L784.8,460.7" stroke="#F0D955" stroke-width="1.3"/><path d="M785.2,453.5L780.3,454.8" stroke="#C29A2C" stroke-width="1.6"/><path d="M794.3,450.2L792.6,451.5" stroke="#D9B02E" stroke-width="2.0"/><path d="M787.6,431.9L782.7,433.0" stroke="#F0D955" stroke-width="2.1"/><path d="M785.1,416.5L781.0,419.9" stroke="#DDB840" stroke-width="2.1"/><path d="M795.4,421.1L791.9,423.0" stroke="#B58A2A" stroke-width="1.5"/><path d="M778.8,458.0L780.1,460.0" stroke="#B58A2A" stroke-width="1.1"/><path d="M768.1,433.1L770.2,434.2" stroke="#F3E070" stroke-width="1.1"/><path d="M799.1,436.3L798.8,438.3" stroke="#E8CE48" stroke-width="2.0"/><path d="M755.1,434.8L755.8,437.2" stroke="#E8CE48" stroke-width="1.0"/><path d="M790.0,446.7L791.1,448.6" stroke="#B58A2A" stroke-width="1.6"/><path d="M760.0,452.3L760.4,455.7" stroke="#E6C436" stroke-width="1.2"/><path d="M805.5,435.7L803.6,439.9" stroke="#F3E070" stroke-width="2.1"/><path d="M779.4,426.3L777.7,427.3" stroke="#B58A2A" stroke-width="1.9"/><path d="M798.0,425.8L798.6,428.2" stroke="#C29A2C" stroke-width="1.3"/><path d="M785.8,426.9L788.3,427.7" stroke="#E6C436" stroke-width="2.1"/><path d="M759.5,442.2L754.9,444.9" stroke="#E6C436" stroke-width="1.2"/><path d="M800.7,435.2L801.4,438.7" stroke="#F3E070" stroke-width="1.6"/><path d="M755.4,445.0L760.2,445.0" stroke="#F0D955" stroke-width="1.6"/><path d="M772.5,438.6L773.2,440.1" stroke="#E8CE48" stroke-width="1.5"/><path d="M803.0,450.5L802.6,452.5" stroke="#C29A2C" stroke-width="1.2"/><path d="M767.1,456.6L765.7,458.4" stroke="#D9B02E" stroke-width="1.1"/><path d="M777.2,446.7L773.0,448.2" stroke="#F0D955" stroke-width="1.9"/><path d="M759.1,430.3L762.2,432.7" stroke="#C29A2C" stroke-width="1.8"/><path d="M749.0,447.9L748.4,450.1" stroke="#DDB840" stroke-width="1.1"/><path d="M797.2,419.6L792.6,422.1" stroke="#B58A2A" stroke-width="1.6"/><path d="M754.7,411.4L757.1,415.6" stroke="#F3E070" stroke-width="2.0"/><path d="M794.9,429.1L797.9,430.0" stroke="#F0D955" stroke-width="1.9"/><path d="M775.9,427.8L773.5,428.8" stroke="#B58A2A" stroke-width="1.2"/><path d="M771.0,416.2L775.3,416.7" stroke="#E6C436" stroke-width="1.7"/><path d="M774.2,410.8L776.5,415.5" stroke="#D9B02E" stroke-width="2.2"/><path d="M770.0,438.4L774.0,440.1" stroke="#B58A2A" stroke-width="2.0"/><path d="M785.4,429.3L781.6,432.5" stroke="#E6C436" stroke-width="1.7"/><path d="M753.8,433.4L754.9,434.9" stroke="#F3E070" stroke-width="1.9"/><path d="M764.7,452.3L764.6,455.9" stroke="#E6C436" stroke-width="1.6"/><path d="M790.6,433.3L791.9,434.6" stroke="#F0D955" stroke-width="1.7"/><path d="M766.2,420.8L768.6,421.6" stroke="#E6C436" stroke-width="2.0"/><path d="M754.4,425.9L759.6,426.2" stroke="#E8CE48" stroke-width="1.9"/><path d="M782.4,444.1L786.3,444.3" stroke="#C29A2C" stroke-width="1.7"/><path d="M785.5,458.3L784.4,459.9" stroke="#F0D955" stroke-width="2.0"/><path d="M758.0,432.2L759.9,432.4" stroke="#E8CE48" stroke-width="1.6"/><path d="M799.5,422.3L801.4,423.0" stroke="#C29A2C" stroke-width="2.1"/><path d="M762.1,434.9L760.2,435.8" stroke="#DDB840" stroke-width="1.7"/><path d="M778.5,440.8L782.7,443.2" stroke="#DDB840" stroke-width="2.1"/><path d="M767.8,438.0L765.5,441.2" stroke="#E6C436" stroke-width="1.7"/><path d="M775.7,444.9L777.4,449.9" stroke="#B58A2A" stroke-width="1.9"/><path d="M747.5,418.1L749.0,422.7" stroke="#B58A2A" stroke-width="1.9"/><path d="M777.0,415.9L772.9,418.6" stroke="#F0D955" stroke-width="1.1"/><path d="M753.8,440.5L748.7,441.2" stroke="#DDB840" stroke-width="1.3"/><path d="M758.2,441.8L757.5,443.2" stroke="#F0D955" stroke-width="1.1"/><path d="M792.1,441.1L795.3,441.8" stroke="#E6C436" stroke-width="1.6"/><path d="M784.4,432.4L786.8,434.5" stroke="#F3E070" stroke-width="1.5"/><path d="M749.1,428.2L747.2,432.5" stroke="#E6C436" stroke-width="2.1"/><path d="M780.3,425.5L784.3,425.9" stroke="#E8CE48" stroke-width="1.3"/><path d="M772.9,444.3L771.1,448.7" stroke="#D9B02E" stroke-width="1.0"/><path d="M752.5,440.4L755.1,443.0" stroke="#E6C436" stroke-width="1.5"/><path d="M802.5,429.5L804.2,431.6" stroke="#D9B02E" stroke-width="1.8"/><path d="M772.9,430.8L778.1,431.8" stroke="#E8CE48" stroke-width="2.1"/><path d="M802.4,441.4L806.1,442.4" stroke="#F3E070" stroke-width="2.1"/><path d="M789.7,424.6L791.6,425.4" stroke="#DDB840" stroke-width="1.4"/><path d="M777.6,432.8L777.0,435.4" stroke="#E8CE48" stroke-width="1.9"/><path d="M748.4,445.4L744.9,447.3" stroke="#DDB840" stroke-width="1.7"/><path d="M785.2,412.8L788.7,415.3" stroke="#E8CE48" stroke-width="1.6"/><path d="M791.3,432.0L790.1,435.2" stroke="#C29A2C" stroke-width="1.4"/><path d="M787.7,441.1L788.8,443.0" stroke="#DDB840" stroke-width="1.7"/><path d="M746.6,427.7L749.5,427.8" stroke="#C29A2C" stroke-width="2.0"/><path d="M799.2,427.9L800.7,430.2" stroke="#C29A2C" stroke-width="1.3"/><path d="M758.6,412.2L761.4,415.9" stroke="#D9B02E" stroke-width="1.2"/><path d="M749.6,434.6L748.6,437.4" stroke="#DDB840" stroke-width="1.8"/><path d="M806.8,442.6L804.3,444.1" stroke="#C29A2C" stroke-width="1.9"/><path d="M781.3,459.2L777.1,459.4" stroke="#DDB840" stroke-width="2.1"/><path d="M765.7,420.4L767.2,422.9" stroke="#E8CE48" stroke-width="1.8"/><path d="M791.3,444.2L788.3,446.1" stroke="#F3E070" stroke-width="1.9"/><path d="M758.0,414.2L760.7,417.2" stroke="#F0D955" stroke-width="1.8"/><path d="M784.6,438.7L785.1,440.6" stroke="#D9B02E" stroke-width="1.5"/><path d="M750.2,425.3L750.3,430.7" stroke="#DDB840" stroke-width="1.7"/><path d="M760.9,439.5L758.6,440.7" stroke="#D9B02E" stroke-width="1.7"/><path d="M774.5,430.9L775.7,434.0" stroke="#B58A2A" stroke-width="1.5"/><path d="M764.9,448.4L766.8,450.9" stroke="#DDB840" stroke-width="1.7"/><path d="M800.3,431.0L799.6,432.3" stroke="#F3E070" stroke-width="1.9"/><path d="M789.0,422.5L790.0,425.0" stroke="#F0D955" stroke-width="1.6"/><path d="M776.9,445.7L777.5,448.6" stroke="#B58A2A" stroke-width="1.3"/><path d="M800.0,429.7L802.5,433.9" stroke="#B58A2A" stroke-width="2.0"/><path d="M770.0,436.2L772.5,438.1" stroke="#E6C436" stroke-width="2.1"/><path d="M745.8,430.8L748.3,431.0" stroke="#E8CE48" stroke-width="2.1"/><path d="M759.6,437.7L755.1,438.8" stroke="#DDB840" stroke-width="1.6"/><path d="M761.5,408.9L761.3,412.4" stroke="#DDB840" stroke-width="1.8"/><path d="M776.7,438.1L776.9,439.8" stroke="#F3E070" stroke-width="1.8"/><path d="M762.8,446.3L758.7,447.0" stroke="#D9B02E" stroke-width="1.6"/><path d="M770.5,421.3L771.5,424.7" stroke="#F0D955" stroke-width="1.8"/><path d="M784.3,412.5L779.4,414.4" stroke="#F3E070" stroke-width="1.6"/><path d="M761.7,430.1L757.9,433.5" stroke="#D9B02E" stroke-width="1.7"/><path d="M791.3,432.7L793.7,434.1" stroke="#E8CE48" stroke-width="2.2"/><path d="M779.7,422.3L779.6,424.2" stroke="#B58A2A" stroke-width="2.1"/><path d="M783.7,455.6L779.0,458.5" stroke="#DDB840" stroke-width="2.1"/><path d="M764.9,455.4L763.4,458.7" stroke="#C29A2C" stroke-width="2.0"/><path d="M760.1,431.4L760.1,433.6" stroke="#D9B02E" stroke-width="1.2"/><path d="M778.4,448.7L780.9,453.6" stroke="#E6C436" stroke-width="1.8"/><path d="M761.3,409.8L760.4,411.1" stroke="#E6C436" stroke-width="1.0"/><path d="M792.3,448.5L789.3,449.3" stroke="#E6C436" stroke-width="1.1"/><path d="M784.7,459.1L783.5,461.0" stroke="#E8CE48" stroke-width="1.6"/><path d="M785.1,438.5L780.5,440.5" stroke="#F0D955" stroke-width="1.6"/><path d="M797.2,441.1L796.5,444.2" stroke="#F0D955" stroke-width="1.1"/><path d="M797.9,420.4L797.7,423.9" stroke="#D9B02E" stroke-width="1.0"/><path d="M770.4,406.9L773.5,408.7" stroke="#DDB840" stroke-width="2.0"/><path d="M791.2,429.1L789.7,430.1" stroke="#B58A2A" stroke-width="1.0"/><path d="M789.0,458.4L791.2,459.5" stroke="#E6C436" stroke-width="1.3"/><path d="M774.4,428.7L775.6,430.1" stroke="#D9B02E" stroke-width="2.1"/><path d="M766.2,417.8L767.7,420.8" stroke="#E6C436" stroke-width="1.5"/><path d="M757.1,441.7L759.4,443.6" stroke="#E6C436" stroke-width="1.9"/><path d="M778.1,433.7L778.8,437.6" stroke="#E6C436" stroke-width="1.3"/><path d="M768.5,447.6L771.8,449.5" stroke="#E6C436" stroke-width="1.2"/><path d="M787.2,431.9L782.6,433.4" stroke="#E8CE48" stroke-width="1.4"/><path d="M790.5,432.8L787.1,433.2" stroke="#C29A2C" stroke-width="2.1"/><path d="M754.1,448.0L751.8,451.6" stroke="#DDB840" stroke-width="1.7"/><path d="M781.0,417.4L783.8,421.6" stroke="#C29A2C" stroke-width="1.6"/><path d="M798.0,442.0L800.1,442.6" stroke="#E6C436" stroke-width="1.5"/><path d="M750.6,448.7L748.0,448.9" stroke="#D9B02E" stroke-width="1.7"/><path d="M801.8,399.8L804.2,404.2" stroke="#D9B02E" stroke-width="1.4"/><path d="M807.6,405.8L804.4,406.2" stroke="#C29A2C" stroke-width="2.1"/><path d="M800.4,407.4L801.6,410.6" stroke="#DDB840" stroke-width="1.4"/><path d="M738.9,420.8L743.1,421.2" stroke="#F0D955" stroke-width="1.4"/><path d="M737.3,439.3L738.7,440.7" stroke="#F0D955" stroke-width="1.2"/><path d="M748.3,443.3L747.7,446.7" stroke="#C29A2C" stroke-width="2.0"/><path d="M750.7,435.3L753.3,436.7" stroke="#DDB840" stroke-width="1.9"/><path d="M793.8,453.2L792.2,456.8" stroke="#F3E070" stroke-width="1.4"/><path d="M796.0,450.8L796.0,453.2" stroke="#F0D955" stroke-width="1.5"/><path d="M802.7,462.5L797.3,463.5" stroke="#F3E070" stroke-width="1.7"/><path d="M760.4,468.6L759.6,471.4" stroke="#C29A2C" stroke-width="1.3"/><path d="M754.9,473.1L759.1,474.9" stroke="#D9B02E" stroke-width="1.8"/><path d="M770.2,466.7L769.8,469.3" stroke="#DDB840" stroke-width="1.9"/><path d="M765.8,477.8L770.2,478.2" stroke="#E6C436" stroke-width="1.2"/><path d="M798.7,473.1L799.3,474.9" stroke="#C29A2C" stroke-width="1.2"/><path d="M813.9,429.2L816.1,432.8" stroke="#B58A2A" stroke-width="1.1"/><path d="M813.9,418.7L810.1,421.3" stroke="#E8CE48" stroke-width="1.2"/><path d="M804.7,424.6L807.3,425.4" stroke="#DDB840" stroke-width="2.0"/><path d="M807.0,442.8L809.0,445.2" stroke="#F0D955" stroke-width="2.1"/><path d="M813.1,447.8L810.9,448.2" stroke="#B58A2A" stroke-width="1.4"/><path d="M790.8,411.7L789.2,412.3" stroke="#F3E070" stroke-width="1.8"/><path d="M784.3,406.3L787.7,409.7" stroke="#D9B02E" stroke-width="1.4"/><path d="M759.2,404.5L760.8,405.5" stroke="#C29A2C" stroke-width="2.1"/><path d="M775.5,400.3L774.5,401.7" stroke="#F0D955" stroke-width="1.0"/><path d="M764.5,395.8L765.5,400.2" stroke="#E6C436" stroke-width="1.2"/></g></g>
<defs><filter id="oglow" x="-20%" y="-20%" width="140%" height="140%"><feGaussianBlur stdDeviation="6.5"/></filter>
<linearGradient id="tface" x1="0.2" y1="0" x2="0.7" y2="1"><stop offset="0" stop-color="#E6CACD"/><stop offset="0.55" stop-color="#DFBCBD"/><stop offset="1" stop-color="#D8B1B1"/></linearGradient>
<linearGradient id="tdk1" x1="0" y1="0" x2="1" y2="1"><stop offset="0" stop-color="#7A6469"/><stop offset="1" stop-color="#453B41"/></linearGradient>
<linearGradient id="tdk2" x1="0" y1="0" x2="1" y2="1"><stop offset="0" stop-color="#9A8084"/><stop offset="1" stop-color="#4C4146"/></linearGradient>
</defs>
<g id="cluster">
<g filter="url(#oglow)" opacity="0.95"><polygon points="935.9,217.3 970.6,238.5 949.3,273.9 913.9,254.8" fill="#F4CA8A" stroke="#F4CA8A" stroke-width="38" stroke-linejoin="round"/><polygon points="991.1,191.1 1030.0,207.4 1008.1,244.2 973.1,223.7" fill="#F4CA8A" stroke="#F4CA8A" stroke-width="38" stroke-linejoin="round"/><polygon points="1078.9,176.9 1112.2,200.3 1092.3,235.0 1059.0,210.9" fill="#F4CA8A" stroke="#F4CA8A" stroke-width="38" stroke-linejoin="round"/><polygon points="1137.5,217.1 1172.9,237.1 1151.7,275.4 1115.8,254.2" fill="#F4CA8A" stroke="#F4CA8A" stroke-width="38" stroke-linejoin="round"/><polygon points="1047.5,237.2 1082.0,262.0 1062.3,294.8 1027.0,271.5" fill="#F4CA8A" stroke="#F4CA8A" stroke-width="38" stroke-linejoin="round"/><polygon points="907.5,277.1 941.5,298.3 921.0,335.2 885.3,313.2" fill="#F4CA8A" stroke="#F4CA8A" stroke-width="38" stroke-linejoin="round"/><polygon points="993.2,271.4 1027.9,289.8 1008.8,324.5 973.4,303.3" fill="#F4CA8A" stroke="#F4CA8A" stroke-width="38" stroke-linejoin="round"/><polygon points="966.3,326.7 998.9,350.0 979.1,384.7 944.4,363.5" fill="#F4CA8A" stroke="#F4CA8A" stroke-width="38" stroke-linejoin="round"/><polygon points="1048.2,316.7 1083.6,338.0 1063.0,374.8 1026.9,353.6" fill="#F4CA8A" stroke="#F4CA8A" stroke-width="38" stroke-linejoin="round"/><polygon points="1107.6,281.3 1142.4,298.3 1121.8,335.2 1090.7,309.0" fill="#F4CA8A" stroke="#F4CA8A" stroke-width="38" stroke-linejoin="round"/></g>
<g filter="url(#oglow)" opacity="0.36"><polygon points="935.9,217.3 970.6,238.5 949.3,273.9 913.9,254.8" fill="#E59A3A" stroke="#E59A3A" stroke-width="9" stroke-linejoin="round"/><polygon points="991.1,191.1 1030.0,207.4 1008.1,244.2 973.1,223.7" fill="#E59A3A" stroke="#E59A3A" stroke-width="9" stroke-linejoin="round"/><polygon points="1078.9,176.9 1112.2,200.3 1092.3,235.0 1059.0,210.9" fill="#E59A3A" stroke="#E59A3A" stroke-width="9" stroke-linejoin="round"/><polygon points="1137.5,217.1 1172.9,237.1 1151.7,275.4 1115.8,254.2" fill="#E59A3A" stroke="#E59A3A" stroke-width="9" stroke-linejoin="round"/><polygon points="1047.5,237.2 1082.0,262.0 1062.3,294.8 1027.0,271.5" fill="#E59A3A" stroke="#E59A3A" stroke-width="9" stroke-linejoin="round"/><polygon points="907.5,277.1 941.5,298.3 921.0,335.2 885.3,313.2" fill="#E59A3A" stroke="#E59A3A" stroke-width="9" stroke-linejoin="round"/><polygon points="993.2,271.4 1027.9,289.8 1008.8,324.5 973.4,303.3" fill="#E59A3A" stroke="#E59A3A" stroke-width="9" stroke-linejoin="round"/><polygon points="966.3,326.7 998.9,350.0 979.1,384.7 944.4,363.5" fill="#E59A3A" stroke="#E59A3A" stroke-width="9" stroke-linejoin="round"/><polygon points="1048.2,316.7 1083.6,338.0 1063.0,374.8 1026.9,353.6" fill="#E59A3A" stroke="#E59A3A" stroke-width="9" stroke-linejoin="round"/><polygon points="1107.6,281.3 1142.4,298.3 1121.8,335.2 1090.7,309.0" fill="#E59A3A" stroke="#E59A3A" stroke-width="9" stroke-linejoin="round"/></g>
<g><polygon points="935.9,217.3 970.6,238.5 963.2,238.7 936.9,222.6" fill="#EBD6DA"/><polygon points="935.9,217.3 936.9,222.6 920.1,251.1 913.9,254.8" fill="#F1E3E8"/><polygon points="970.6,238.5 949.3,273.9 947.0,265.6 963.2,238.7" fill="url(#tdk1)"/><polygon points="913.9,254.8 920.1,251.1 947.0,265.6 949.3,273.9" fill="url(#tdk2)"/><polygon points="936.9,222.6 963.2,238.7 947.0,265.6 920.1,251.1" fill="url(#tface)"/></g>
<g><polygon points="991.1,191.1 1030.0,207.4 1022.3,208.0 992.8,195.6" fill="#EBD6DA"/><polygon points="991.1,191.1 992.8,195.6 979.1,220.4 973.1,223.7" fill="#F1E3E8"/><polygon points="1030.0,207.4 1008.1,244.2 1005.7,236.0 1022.3,208.0" fill="url(#tdk1)"/><polygon points="973.1,223.7 979.1,220.4 1005.7,236.0 1008.1,244.2" fill="url(#tdk2)"/><polygon points="992.8,195.6 1022.3,208.0 1005.7,236.0 979.1,220.4" fill="url(#tface)"/></g>
<g><polygon points="1078.9,176.9 1112.2,200.3 1105.2,200.0 1079.9,182.2" fill="#EBD6DA"/><polygon points="1078.9,176.9 1079.9,182.2 1064.8,208.1 1059.0,210.9" fill="#F1E3E8"/><polygon points="1112.2,200.3 1092.3,235.0 1090.1,226.4 1105.2,200.0" fill="url(#tdk1)"/><polygon points="1059.0,210.9 1064.8,208.1 1090.1,226.4 1092.3,235.0" fill="url(#tdk2)"/><polygon points="1079.9,182.2 1105.2,200.0 1090.1,226.4 1064.8,208.1" fill="url(#tface)"/></g>
<g><polygon points="1137.5,217.1 1172.9,237.1 1165.5,237.6 1138.6,222.4" fill="#EBD6DA"/><polygon points="1137.5,217.1 1138.6,222.4 1122.1,250.6 1115.8,254.2" fill="#F1E3E8"/><polygon points="1172.9,237.1 1151.7,275.4 1149.4,266.7 1165.5,237.6" fill="url(#tdk1)"/><polygon points="1115.8,254.2 1122.1,250.6 1149.4,266.7 1151.7,275.4" fill="url(#tdk2)"/><polygon points="1138.6,222.4 1165.5,237.6 1149.4,266.7 1122.1,250.6" fill="url(#tface)"/></g>
<g><polygon points="1047.5,237.2 1082.0,262.0 1074.8,261.4 1048.6,242.6" fill="#EBD6DA"/><polygon points="1047.5,237.2 1048.6,242.6 1033.0,268.7 1027.0,271.5" fill="#F1E3E8"/><polygon points="1082.0,262.0 1062.3,294.8 1059.9,286.4 1074.8,261.4" fill="url(#tdk1)"/><polygon points="1027.0,271.5 1033.0,268.7 1059.9,286.4 1062.3,294.8" fill="url(#tdk2)"/><polygon points="1048.6,242.6 1074.8,261.4 1059.9,286.4 1033.0,268.7" fill="url(#tface)"/></g>
<g><polygon points="907.5,277.1 941.5,298.3 934.3,298.5 908.4,282.4" fill="#EBD6DA"/><polygon points="907.5,277.1 908.4,282.4 891.5,309.9 885.3,313.2" fill="#F1E3E8"/><polygon points="941.5,298.3 921.0,335.2 918.7,326.6 934.3,298.5" fill="url(#tdk1)"/><polygon points="885.3,313.2 891.5,309.9 918.7,326.6 921.0,335.2" fill="url(#tdk2)"/><polygon points="908.4,282.4 934.3,298.5 918.7,326.6 891.5,309.9" fill="url(#tface)"/></g>
<g><polygon points="993.2,271.4 1027.9,289.8 1020.8,290.0 994.4,276.0" fill="#EBD6DA"/><polygon points="993.2,271.4 994.4,276.0 979.4,300.2 973.4,303.3" fill="#F1E3E8"/><polygon points="1027.9,289.8 1008.8,324.5 1006.3,316.4 1020.8,290.0" fill="url(#tdk1)"/><polygon points="973.4,303.3 979.4,300.2 1006.3,316.4 1008.8,324.5" fill="url(#tdk2)"/><polygon points="994.4,276.0 1020.8,290.0 1006.3,316.4 979.4,300.2" fill="url(#tface)"/></g>
<g><polygon points="966.3,326.7 998.9,350.0 991.9,349.9 967.1,332.2" fill="#EBD6DA"/><polygon points="966.3,326.7 967.1,332.2 950.5,360.2 944.4,363.5" fill="#F1E3E8"/><polygon points="998.9,350.0 979.1,384.7 976.8,376.3 991.9,349.9" fill="url(#tdk1)"/><polygon points="944.4,363.5 950.5,360.2 976.8,376.3 979.1,384.7" fill="url(#tdk2)"/><polygon points="967.1,332.2 991.9,349.9 976.8,376.3 950.5,360.2" fill="url(#tface)"/></g>
<g><polygon points="1048.2,316.7 1083.6,338.0 1076.2,338.3 1049.3,322.1" fill="#EBD6DA"/><polygon points="1048.2,316.7 1049.3,322.1 1033.1,350.1 1026.9,353.6" fill="#F1E3E8"/><polygon points="1083.6,338.0 1063.0,374.8 1060.6,366.2 1076.2,338.3" fill="url(#tdk1)"/><polygon points="1026.9,353.6 1033.1,350.1 1060.6,366.2 1063.0,374.8" fill="url(#tdk2)"/><polygon points="1049.3,322.1 1076.2,338.3 1060.6,366.2 1033.1,350.1" fill="url(#tface)"/></g>
<g><polygon points="1107.6,281.3 1142.4,298.3 1135.4,298.5 1108.9,285.6" fill="#EBD6DA"/><polygon points="1107.6,281.3 1108.9,285.6 1096.1,306.7 1090.7,309.0" fill="#F1E3E8"/><polygon points="1142.4,298.3 1121.8,335.2 1119.7,326.6 1135.4,298.5" fill="url(#tdk1)"/><polygon points="1090.7,309.0 1096.1,306.7 1119.7,326.6 1121.8,335.2" fill="url(#tdk2)"/><polygon points="1108.9,285.6 1135.4,298.5 1119.7,326.6 1096.1,306.7" fill="url(#tface)"/></g>
<path d="M950.0,263.3L930.4,240.1M965.3,265.0H981.2M1068.2,225.1L1048.6,201.9M1083.5,226.8H1099.4M1138.8,262.9L1119.2,239.7M1154.0,264.6H1170.0M1033.2,263.8L1013.6,240.6M1048.5,265.5H1064.4M1003.1,340.1L983.5,316.9M1018.4,341.8H1034.3M967.0,374.8L947.4,351.6M982.3,376.5H998.2M1098.2,323.1L1078.6,299.9M1113.5,324.8H1129.4" stroke="#6CC3EE" stroke-width="7.8" stroke-linecap="round" fill="none"/>
<path d="M996.5,218.4V187.2M1012.3,219.9H1028.0M1091.6,194.6V163.4M1107.4,196.1H1123.1M1151.7,228.3V197.1M1167.5,229.8H1183.2M1079.6,276.1V244.9M1095.4,277.6H1111.1M924.5,323.1V291.9M940.3,324.6H956.0M996.8,291.2V260.0M1012.6,292.7H1028.3M1037.5,347.2V316.0M1053.3,348.7H1069.0" stroke="#1FBCD6" stroke-width="7.6" stroke-linecap="round" fill="none"/>
<g fill="#EE5B80"><circle cx="950" cy="263.3" r="10.7"/><circle cx="1068.2" cy="225.1" r="10.7"/><circle cx="1138.75" cy="262.9" r="10.7"/><circle cx="1033.2" cy="263.8" r="10.7"/><circle cx="1003.1" cy="340.1" r="10.7"/><circle cx="967" cy="374.8" r="10.7"/><circle cx="1098.2" cy="323.1" r="10.7"/></g>
<g fill="#F9C12D"><circle cx="996.5" cy="218.4" r="10.7"/><circle cx="1091.6" cy="194.6" r="10.7"/><circle cx="1151.7" cy="228.3" r="10.7"/><circle cx="1079.6" cy="276.1" r="10.7"/><circle cx="924.5" cy="323.1" r="10.7"/><circle cx="996.8" cy="291.2" r="10.7"/><circle cx="1037.5" cy="347.2" r="10.7"/></g>
<g fill="none" stroke="#000" stroke-width="4.2">
<rect x="926.9" y="230" width="61.4" height="50.3" rx="10" ry="10" stroke-dasharray="7.8 8.2" stroke-dashoffset="-0.2"/>
<path d="M924.5,281L824,520" stroke-dasharray="10.5 5.5" stroke-dashoffset="5"/>
<path d="M986.5,277.4L1185.5,519.5" stroke-dasharray="10.5 5.5"/>
</g>
</g>
<defs>
<radialGradient id="gC" cx="0.38" cy="0.32" r="0.72"><stop offset="0" stop-color="#D6D6D6"/><stop offset="0.45" stop-color="#8C8C8C"/><stop offset="1" stop-color="#3C3C3C"/></radialGradient>
<radialGradient id="gH" cx="0.38" cy="0.32" r="0.72"><stop offset="0" stop-color="#FFFFFF"/><stop offset="0.45" stop-color="#DADADA"/><stop offset="1" stop-color="#707070"/></radialGradient>
<radialGradient id="gO" cx="0.38" cy="0.32" r="0.72"><stop offset="0" stop-color="#FF6B5E"/><stop offset="0.45" stop-color="#E11212"/><stop offset="1" stop-color="#7E0606"/></radialGradient>
</defs>
<g id="panels">
<g id="molL"><path d="M45.3,632.7L62.7,639.3M62.7,639.3L77.3,625.3M77.3,625.3L96,634M96,634L110.4,620M117.5,613L169.4,560.6M169.4,560.6L190.5,565M190.5,565L200.25,577.75M196.5,562L210,571M210,571L220.5,582.25M200.25,577.75L214.5,586M220.5,582.25L234,594.25M234,594.25L243.75,604M243.75,604L259.5,614.5M259.5,614.5L276,604M276,604L292.5,613.75M292.5,613.75L309,604M169.4,560.6L166.6,544.7" stroke="#4A4A4A" stroke-width="1.3" fill="none"/><circle cx="36.0" cy="641.3" r="3.5" fill="url(#gH)"/><circle cx="45.3" cy="632.7" r="5.2" fill="url(#gC)"/><circle cx="44.0" cy="624.0" r="3.5" fill="url(#gH)"/><circle cx="62.7" cy="639.3" r="5.2" fill="url(#gC)"/><circle cx="64.0" cy="647.3" r="3.564" fill="url(#gH)"/><circle cx="76.7" cy="618.0" r="3.5" fill="url(#gH)"/><circle cx="77.3" cy="625.3" r="5.2" fill="url(#gC)"/><circle cx="96.7" cy="642.3" r="3.564" fill="url(#gH)"/><circle cx="100.2" cy="640.0" r="3.24" fill="url(#gH)"/><circle cx="96.0" cy="634.0" r="5.2" fill="url(#gC)"/><circle cx="117.5" cy="613.0" r="4.752000000000001" fill="url(#gC)"/><circle cx="113.6" cy="616.4" r="4.968" fill="url(#gO)"/><circle cx="110.4" cy="620.0" r="5.4" fill="url(#gO)"/><circle cx="129.0" cy="600.8" r="5.6160000000000005" fill="url(#gC)"/><circle cx="132.6" cy="597.0" r="5.4" fill="url(#gC)"/><circle cx="135.6" cy="593.6" r="4.752000000000001" fill="url(#gH)"/><circle cx="139.5" cy="590.2" r="5.6160000000000005" fill="url(#gC)"/><circle cx="147.0" cy="582.8" r="5.6160000000000005" fill="url(#gC)"/><circle cx="150.8" cy="579.0" r="5.4" fill="url(#gC)"/><circle cx="153.8" cy="575.8" r="4.752000000000001" fill="url(#gH)"/><circle cx="157.3" cy="572.6" r="5.6160000000000005" fill="url(#gC)"/><circle cx="166.6" cy="544.7" r="4.86" fill="url(#gO)"/><circle cx="169.4" cy="560.6" r="5.4" fill="url(#gC)"/><circle cx="177.2" cy="551.4" r="5.0760000000000005" fill="url(#gO)"/><circle cx="190.5" cy="554.5" r="3.564" fill="url(#gH)"/><circle cx="196.5" cy="562.0" r="4.86" fill="url(#gC)"/><circle cx="190.5" cy="565.0" r="5.4" fill="url(#gC)"/><circle cx="214.5" cy="568.5" r="3.24" fill="url(#gH)"/><circle cx="210.0" cy="571.0" r="5.184" fill="url(#gC)"/><circle cx="200.2" cy="577.8" r="5.184" fill="url(#gC)"/><circle cx="220.5" cy="582.2" r="4.86" fill="url(#gC)"/><circle cx="214.5" cy="586.0" r="5.4" fill="url(#gC)"/><circle cx="222.0" cy="594.2" r="3.564" fill="url(#gH)"/><circle cx="239.2" cy="590.5" r="4.86" fill="url(#gO)"/><circle cx="234.0" cy="594.2" r="5.184" fill="url(#gC)"/><circle cx="243.8" cy="604.0" r="4.86" fill="url(#gO)"/><circle cx="260.2" cy="625.0" r="3.564" fill="url(#gH)"/><circle cx="259.5" cy="614.5" r="5.4" fill="url(#gC)"/><circle cx="275.2" cy="592.8" r="3.5" fill="url(#gH)"/><circle cx="278.5" cy="598.5" r="3.5" fill="url(#gH)"/><circle cx="276.0" cy="604.0" r="5.2" fill="url(#gC)"/><circle cx="292.5" cy="625.0" r="3.4560000000000004" fill="url(#gH)"/><circle cx="292.5" cy="613.8" r="5.2" fill="url(#gC)"/><circle cx="309.8" cy="593.5" r="3.5" fill="url(#gH)"/><circle cx="319.5" cy="610.8" r="3.5" fill="url(#gH)"/><circle cx="309.0" cy="604.0" r="5.2" fill="url(#gC)"/></g>
<polygon points="201.3,520.3 227.4,524.3 88.8,678.0 63.3,673.8" fill="#E6BEC0" style="mix-blend-mode:multiply"/>
<polygon points="141.0,523.8 310.5,646.0 309.5,671.5 141.0,548.3" fill="#B9DEE6" style="mix-blend-mode:multiply"/>
<path d="M140,538H217M62,655H101M283,655.5H313" stroke="#fff" stroke-opacity="0.75" stroke-width="0.8"/>
<path d="M181.3,622V600.2" stroke="#1FBCD6" stroke-width="7.2" stroke-linecap="round"/><path d="M192.5,623.6H205" stroke="#1FBCD6" stroke-width="7" stroke-linecap="round"/><circle cx="180.75" cy="622.75" r="8.6" fill="#F9C12D"/>
<path d="M141.75,620Q189.4,658.5 237,620" fill="none" stroke="#1FBCD6" stroke-width="2.7"/><path d="M144.7,628.5L141.8,620.0M150.7,621.1L141.8,620.0M228.1,621.1L237.0,620.0M234.1,628.5L237.0,620.0" fill="none" stroke="#1FBCD6" stroke-width="2.7" stroke-linecap="round" stroke-linejoin="round"/>
<path d="M20,509.8H341.2Q344.2,509.8 344.2,512.8V688.8Q344.2,697.8 335.2,697.8H26Q17,697.8 17,688.8V512.8Q17,509.8 20,509.8Z" fill="none" stroke="#55D4C0" stroke-width="3.8" stroke-dasharray="7.8 8.25" stroke-dashoffset="-6.7"/>
<g id="molR"><path d="M984.5,554.8L988.25,567.8M988.25,567.8L1004.5,572.2M1014.1,570.3L1029.4,574.1M1010.3,578.9L1024.6,582.7M1035.2,580.8L1051.5,586.5M1051.5,586.5L1076.4,587.5M1076.4,587.5L1077.3,603.8M1077.3,603.8L1094.6,608.6M1094.6,608.6L1096.5,624.9M988.25,567.8L965.75,572.75M959.75,572L946.25,580.25M941.75,588.5L923.75,596M923.75,596L902.75,611.75M902.75,611.75L905,626.75M905,626.75L890.75,636.5M890.75,636.5L893,652.25" stroke="#4A4A4A" stroke-width="1.3" fill="none"/><circle cx="984.5" cy="554.8" r="4.86" fill="url(#gO)"/><circle cx="988.2" cy="567.8" r="5.2" fill="url(#gC)"/><circle cx="980.0" cy="566.0" r="4.968" fill="url(#gO)"/><circle cx="967.0" cy="566.8" r="3.24" fill="url(#gH)"/><circle cx="959.8" cy="572.0" r="5.2" fill="url(#gC)"/><circle cx="965.8" cy="572.8" r="4.86" fill="url(#gC)"/><circle cx="946.2" cy="580.2" r="5.2" fill="url(#gC)"/><circle cx="959.0" cy="584.0" r="3.24" fill="url(#gH)"/><circle cx="956.0" cy="581.8" r="4.86" fill="url(#gC)"/><circle cx="936.5" cy="587.0" r="4.86" fill="url(#gC)"/><circle cx="941.8" cy="588.5" r="5.4" fill="url(#gC)"/><circle cx="935.8" cy="594.5" r="3.4560000000000004" fill="url(#gH)"/><circle cx="918.5" cy="594.5" r="4.86" fill="url(#gO)"/><circle cx="923.8" cy="596.0" r="5.4" fill="url(#gC)"/><circle cx="916.2" cy="603.5" r="5.0760000000000005" fill="url(#gO)"/><circle cx="896.0" cy="604.2" r="3.5" fill="url(#gH)"/><circle cx="896.0" cy="612.5" r="3.5" fill="url(#gH)"/><circle cx="902.8" cy="611.8" r="5.4" fill="url(#gC)"/><circle cx="912.5" cy="627.5" r="3.5" fill="url(#gH)"/><circle cx="912.5" cy="633.5" r="3.5" fill="url(#gH)"/><circle cx="905.0" cy="626.8" r="5.4" fill="url(#gC)"/><circle cx="883.2" cy="629.8" r="3.5" fill="url(#gH)"/><circle cx="883.2" cy="636.5" r="3.5" fill="url(#gH)"/><circle cx="890.8" cy="636.5" r="5.4" fill="url(#gC)"/><circle cx="900.5" cy="652.2" r="3.5" fill="url(#gH)"/><circle cx="893.0" cy="652.2" r="5.2" fill="url(#gC)"/><circle cx="882.5" cy="659.0" r="3.5" fill="url(#gH)"/><circle cx="899.8" cy="659.8" r="3.5" fill="url(#gH)"/><circle cx="1009.3" cy="564.5" r="3.5" fill="url(#gH)"/><circle cx="1014.1" cy="570.3" r="4.968" fill="url(#gC)"/><circle cx="1004.5" cy="572.2" r="5.2" fill="url(#gC)"/><circle cx="1002.6" cy="580.2" r="3.5" fill="url(#gH)"/><circle cx="1010.3" cy="578.9" r="5.2" fill="url(#gC)"/><circle cx="1037.1" cy="571.2" r="3.5" fill="url(#gH)"/><circle cx="1029.4" cy="574.1" r="5.2" fill="url(#gC)"/><circle cx="1024.6" cy="582.7" r="5.2" fill="url(#gC)"/><circle cx="1035.2" cy="580.8" r="5.2" fill="url(#gC)"/><circle cx="1030.4" cy="587.5" r="3.5" fill="url(#gH)"/><circle cx="1051.5" cy="586.5" r="5.2" fill="url(#gC)"/><circle cx="1059.1" cy="582.1" r="4.86" fill="url(#gO)"/><circle cx="1056.3" cy="591.3" r="4.86" fill="url(#gO)"/><circle cx="1080.8" cy="580.2" r="3.5" fill="url(#gH)"/><circle cx="1076.4" cy="587.5" r="5.2" fill="url(#gC)"/><circle cx="1069.0" cy="607.5" r="3.5" fill="url(#gH)"/><circle cx="1071.6" cy="610.5" r="3.5" fill="url(#gH)"/><circle cx="1077.3" cy="603.8" r="5.2" fill="url(#gC)"/><circle cx="1101.3" cy="601.9" r="3.5" fill="url(#gH)"/><circle cx="1094.6" cy="608.6" r="5.2" fill="url(#gC)"/><circle cx="1109.0" cy="627.8" r="3.5" fill="url(#gH)"/><circle cx="1091.7" cy="632.5" r="3.5" fill="url(#gH)"/><circle cx="1096.5" cy="624.9" r="5.2" fill="url(#gC)"/></g>
<polygon points="1012.5,539.0 1032.3,548.8 859.5,657.5 837.6,648.4" fill="#E6BEC0" style="mix-blend-mode:multiply"/>
<polygon points="900.7,549.0 1180.0,604.0 1186.6,624.0 908.0,567.8" fill="#B9DEE6" style="mix-blend-mode:multiply"/>
<path d="M993,609L982.4,596.4M1001.6,609.5H1010.2" stroke="#6CC3EE" stroke-width="5.8" stroke-linecap="round"/><circle cx="993" cy="609" r="7.7" fill="#EE5B80"/>
<path d="M943.5,604Q1003.5,651.4 1064,604" fill="none" stroke="#1FBCD6" stroke-width="2.0"/><path d="M945.9,610.6L943.5,604.0M950.5,604.8L943.5,604.0M1057.0,604.7L1064.0,604.0M1061.6,610.6L1064.0,604.0" fill="none" stroke="#1FBCD6" stroke-width="2.0" stroke-linecap="round" stroke-linejoin="round"/>
<path d="M832,522H1186Q1195,522 1195,531V674Q1195,683 1186,683H832Q823,683 823,674V531Q823,522 832,522Z" fill="none" stroke="#55D4C0" stroke-width="3.8" stroke-dasharray="7.8 8.2" stroke-dashoffset="-1"/>
<path d="M374,538H793Q801,538 801,546V657.7Q801,660.7 798,660.7H369Q366,660.7 366,657.7V546Q366,538 374,538Z" fill="none" stroke="#E8A95A" stroke-width="3.8" stroke-dasharray="7.8 8.2" stroke-dashoffset="-2"/>
<path d="M397.4,588V557.2M412.5,590H428.8" stroke="#1FBCD6" stroke-width="8.3" stroke-linecap="round"/><circle cx="397.3" cy="588.3" r="10.9" fill="#F9C12D"/>
<path d="M397,636L377.5,613.5M412.3,638H428" stroke="#6CC3EE" stroke-width="8" stroke-linecap="round"/><circle cx="397" cy="636" r="10.9" fill="#EE5B80"/>
<path d="M454,592H489M454,601.7H489M454,611.2H489" stroke="#1FBCD6" stroke-width="4.1"/>
</g>
<defs>
<clipPath id="ph1"><rect x="187" y="936" width="294.6" height="225.6"/></clipPath><clipPath id="ph2"><rect x="722" y="936" width="294.8" height="225.6"/></clipPath>
<linearGradient id="phbg1" gradientUnits="userSpaceOnUse" x1="277" y1="936" x2="482" y2="1000"><stop offset="0" stop-color="#EBDCB6"/><stop offset="0.5" stop-color="#E8D7AB"/><stop offset="1" stop-color="#E4D09C"/></linearGradient>
<linearGradient id="massL1" gradientUnits="userSpaceOnUse" x1="187" y1="0" x2="290" y2="0"><stop offset="0" stop-color="#080503"/><stop offset="0.3" stop-color="#0E0905"/><stop offset="0.42" stop-color="#271C0E"/><stop offset="0.55" stop-color="#45371E"/><stop offset="0.7" stop-color="#5E4E34"/><stop offset="0.85" stop-color="#6A5A3E"/><stop offset="1" stop-color="#66573C"/></linearGradient>
<linearGradient id="phbg2" gradientUnits="userSpaceOnUse" x1="812" y1="936" x2="1017" y2="1000"><stop offset="0" stop-color="#F0E3C0"/><stop offset="0.5" stop-color="#EFE0B6"/><stop offset="1" stop-color="#ECDAA8"/></linearGradient>
<linearGradient id="massL2" gradientUnits="userSpaceOnUse" x1="722" y1="0" x2="825" y2="0"><stop offset="0" stop-color="#080503"/><stop offset="0.3" stop-color="#0E0905"/><stop offset="0.42" stop-color="#271C0E"/><stop offset="0.55" stop-color="#45371E"/><stop offset="0.7" stop-color="#5E4E34"/><stop offset="0.85" stop-color="#6A5A3E"/><stop offset="1" stop-color="#66573C"/></linearGradient>
<linearGradient id="glassV" x1="0" y1="0" x2="0" y2="1"><stop offset="0" stop-color="#8E7F64"/><stop offset="0.35" stop-color="#9E9686"/><stop offset="0.6" stop-color="#A8A29A"/><stop offset="1" stop-color="#B0ABA6"/></linearGradient>
<linearGradient id="stripR" x1="0" y1="0" x2="1" y2="0"><stop offset="0" stop-color="#3C3036"/><stop offset="0.12" stop-color="#4E3E26"/><stop offset="0.4" stop-color="#66552C"/><stop offset="1" stop-color="#4A3818"/></linearGradient>
<linearGradient id="stripR2" x1="0" y1="0" x2="1" y2="0"><stop offset="0" stop-color="#4A3E4A"/><stop offset="0.1" stop-color="#6A5A38"/><stop offset="0.35" stop-color="#8A7A48"/><stop offset="1" stop-color="#6A5830"/></linearGradient>
<filter id="pb1" x="-10%" y="-10%" width="120%" height="120%"><feGaussianBlur stdDeviation="1.2"/></filter><filter id="pb3" x="-20%" y="-10%" width="140%" height="120%"><feGaussianBlur stdDeviation="3"/></filter><filter id="pb6" x="-30%" y="-20%" width="160%" height="140%"><feGaussianBlur stdDeviation="6"/></filter><filter id="pb05"><feGaussianBlur stdDeviation="0.5"/></filter>
<filter id="tex" x="0" y="0" width="100%" height="100%" color-interpolation-filters="sRGB"><feTurbulence type="fractalNoise" baseFrequency="0.07 0.011" numOctaves="3" seed="4" result="n"/><feColorMatrix in="n" type="matrix" values="0 0 0 0 0.50  0 0 0 0 0.41  0 0 0 0 0.26  2.4 0 0 0 -0.95"/><feGaussianBlur stdDeviation="0.8"/></filter>
<filter id="texd" x="0" y="0" width="100%" height="100%" color-interpolation-filters="sRGB"><feTurbulence type="fractalNoise" baseFrequency="0.05 0.014" numOctaves="2" seed="9" result="n"/><feColorMatrix in="n" type="matrix" values="0 0 0 0 0.05  0 0 0 0 0.03  0 0 0 0 0.02  0 2.6 0 0 -1.05"/><feGaussianBlur stdDeviation="1"/></filter>
<clipPath id="mclip1"><path d="M215,930 L268,930 C269,960 265,990 267,1010 C268,1035 269,1055 272,1072 C275,1095 278,1115 283,1132 C286,1145 288,1155 290,1168 L222,1168 Z"/></clipPath>
<clipPath id="mclip2"><path d="M748,930 L801,930 C802,960 798,990 800,1010 C801,1035 802,1055 805,1072 C808,1095 811,1115 816,1132 C819,1145 821,1155 823,1168 L755,1168 Z"/></clipPath>
</defs>
<g id="photo1" clip-path="url(#ph1)">
<rect x="187.0" y="936" width="295" height="226" fill="url(#phbg1)"/>
<ellipse cx="330.0" cy="1040" rx="45" ry="70" fill="#F0E3C4" opacity="0.5" filter="url(#pb6)"/>
<ellipse cx="440.0" cy="1120" rx="40" ry="60" fill="#DCC992" opacity="0.35" filter="url(#pb6)"/>
<path d="M262.0,930 L274.0,936 C279.0,960 282.0,975 284.0,990 C287.0,1005 288.0,1018 289.0,1030 C292.0,1055 296.0,1078 298.0,1090 C301.0,1110 304.0,1130 308.0,1165 L270.0,1165 Z" fill="url(#glassV)" filter="url(#pb1)"/>
<path d="M282.0,1065 C288.0,1090 294.0,1115 303.0,1160 L288.0,1162 Z" fill="#C6C1C2" opacity="0.6" filter="url(#pb1)"/>
<path d="M180.0,930 L269.0,930 C269.0,960 265.0,990 267.0,1010 C268.0,1035 269.0,1055 272.0,1072 C275.0,1095 278.0,1115 283.0,1132 C286.0,1145 288.0,1155 290.0,1168 L180.0,1168 Z" fill="url(#massL1)" filter="url(#pb1)"/>
<path d="M180,925 H226 C224,990 222,1060 226,1110 C228,1135 230,1150 232,1170 H180 Z" fill="#070402" opacity="0.85" filter="url(#pb3)"/>
<path d="M236,930 C240,960 238,990 242,1020 L266,1010 C264,985 268,960 268,930 Z" fill="#1A120A" opacity="0.75" filter="url(#pb3)"/>
<ellipse cx="262" cy="1095" rx="10" ry="48" fill="#97876A" opacity="0.55" filter="url(#pb6)" transform="rotate(-7 262 1095)"/>
<path d="M243,1050 C246,1080 250,1110 258,1150" stroke="#2A2014" stroke-width="7" opacity="0.5" fill="none" filter="url(#pb3)"/>
<g clip-path="url(#mclip1)"><rect x="210" y="936" width="90" height="226" filter="url(#tex)" opacity="0.55"/><rect x="210" y="936" width="90" height="226" filter="url(#texd)" opacity="0.6"/></g>
<g stroke="#D48A1C" stroke-linecap="round" fill="none" filter="url(#pb05)" opacity="0.62"><path d="M268.0,1026 C270.0,1036 272.0,1044 274.0,1052" stroke-width="2.6"/><path d="M267.0,1058 C270.0,1072 274.0,1084 277.0,1094" stroke-width="2.6"/><path d="M274.0,1100 C278.0,1112 282.0,1124 286.0,1134" stroke-width="2.2"/><path d="M281.0,1142 C284.0,1148 288.0,1154 292.0,1160" stroke-width="2.4" stroke="#E0A030"/><path d="M262.0,990 C263.0,1000 264.0,1010 266.0,1018" stroke-width="1.4" stroke="#B87A28"/></g>
<path d="M274.0,1137 L296.0,1140" stroke="#1A1410" stroke-width="1.6" filter="url(#pb05)"/>
<g filter="url(#pb05)"><path d="M262,1022.2 L473,1021.4" stroke="#857850" stroke-width="7.4"/><path d="M272,1022.2 L473,1021.4" stroke="#A99C70" stroke-width="3"/><path d="M250,1021 L280,1022" stroke="#3A2E1C" stroke-width="3" opacity="0.7"/><circle cx="411" cy="1018.6" r="2" fill="#3E3424"/></g>
<path d="M481,940 L479,955 L477,972 L476,980 L474,1000 L472,1020 L471,1040 L470,1070 L471,1095 L473,1115 L474,1130 L476,1150 L476,1168 L511,1170 L511,925 Z" fill="#7A6638" opacity="0.55" filter="url(#pb6)" transform="translate(-3 0)"/>
<path d="M481,940 L479,955 L477,972 L476,980 L474,1000 L472,1020 L471,1040 L470,1070 L471,1095 L473,1115 L474,1130 L476,1150 L476,1168 L511,1170 L511,925 Z" fill="url(#stripR)" filter="url(#pb1)"/>
<path d="M403,1071 L392,1073 C400,1078 406,1082 412,1086 C418,1090 422,1091 424,1094 C428,1098 428,1102 430,1106 C433,1112 436,1115 440,1116 C445,1118 448,1117 452,1117 C456,1116 459,1114 462,1113" fill="none" stroke="#84AEAE" stroke-width="0.9" filter="url(#pb05)"/>
<g fill="#5EB0C0" filter="url(#pb05)"><circle cx="438.5" cy="1010" r="1"/><circle cx="420" cy="1033" r="1.1"/><circle cx="378" cy="955" r="1"/><circle cx="454" cy="1009" r="0.8"/><circle cx="329" cy="1047" r="0.8"/></g>
<g fill="#A08E6C" filter="url(#pb05)"><circle cx="371" cy="945" r="1"/><circle cx="348" cy="987" r="0.9"/><circle cx="382" cy="1038" r="0.9"/><circle cx="377" cy="1059" r="0.9"/><circle cx="393" cy="1047" r="0.8"/><circle cx="415" cy="1062" r="0.8"/></g>
</g>
<g id="photo2" clip-path="url(#ph2)">
<rect x="722" y="936" width="295" height="226" fill="url(#phbg2)"/>
<ellipse cx="865" cy="1040" rx="45" ry="70" fill="#F5EBD0" opacity="0.45" filter="url(#pb6)"/>
<g filter="url(#pb05)" fill="none" stroke-linejoin="round"><path d="M804,1060 L886,1092 L1005,1059" stroke="#A9A57E" stroke-width="3.8"/><path d="M830,1070.5 L886,1091.5 L1004,1058.5" stroke="#DAD6B4" stroke-width="1.5"/></g>
<g opacity="0.97"><path d="M795.0,930 L807.0,936 C812.0,960 815.0,975 817.0,990 C820.0,1005 821.0,1018 822.0,1030 C825.0,1055 829.0,1078 831.0,1090 C834.0,1110 837.0,1130 841.0,1165 L803.0,1165 Z" fill="url(#glassV)" filter="url(#pb1)"/>
<path d="M815.0,1065 C821.0,1090 827.0,1115 836.0,1160 L821.0,1162 Z" fill="#C6C1C2" opacity="0.6" filter="url(#pb1)"/>
<path d="M713.0,930 L802.0,930 C802.0,960 798.0,990 800.0,1010 C801.0,1035 802.0,1055 805.0,1072 C808.0,1095 811.0,1115 816.0,1132 C819.0,1145 821.0,1155 823.0,1168 L713.0,1168 Z" fill="url(#massL2)" filter="url(#pb1)"/>
</g>
<path d="M715,925 H760 C758,990 756,1060 760,1110 C762,1135 764,1150 766,1170 H715 Z" fill="#070402" opacity="0.8" filter="url(#pb3)"/>
<path d="M770,930 C774,960 772,990 776,1020 L799,1010 C797,985 801,960 801,930 Z" fill="#1A120A" opacity="0.55" filter="url(#pb3)"/>
<ellipse cx="795" cy="1085" rx="10" ry="55" fill="#9A8A6C" opacity="0.55" filter="url(#pb6)" transform="rotate(-7 795 1085)"/>
<path d="M776,1050 C779,1080 783,1110 791,1150" stroke="#2A2014" stroke-width="7" opacity="0.5" fill="none" filter="url(#pb3)"/>
<path d="M745,940 C760,960 775,975 790,985" stroke="#1A120A" stroke-width="9" opacity="0.4" filter="url(#pb3)" fill="none"/>
<g clip-path="url(#mclip2)"><rect x="743" y="936" width="90" height="226" filter="url(#tex)" opacity="0.6"/><rect x="743" y="936" width="90" height="226" filter="url(#texd)" opacity="0.5"/></g>
<g stroke="#D48A1C" stroke-linecap="round" fill="none" filter="url(#pb05)" opacity="0.62"><path d="M801.0,1026 C803.0,1036 805.0,1044 807.0,1052" stroke-width="2.6"/><path d="M800.0,1058 C803.0,1072 807.0,1084 810.0,1094" stroke-width="2.6"/><path d="M807.0,1100 C811.0,1112 815.0,1124 819.0,1134" stroke-width="2.2"/><path d="M814.0,1142 C817.0,1148 821.0,1154 825.0,1160" stroke-width="2.4" stroke="#E0A030"/><path d="M795.0,990 C796.0,1000 797.0,1010 799.0,1018" stroke-width="1.4" stroke="#B87A28"/></g>
<path d="M807.0,1137 L829.0,1140" stroke="#1A1410" stroke-width="1.6" filter="url(#pb05)"/>
<path d="M881,930 C880,960 880,990 879,1010 C878,1030 878,1045 876,1054 C872,1064 866,1070 864,1077 C862,1083 864,1086 868,1087 C872,1088 875,1086 877,1084 C879,1088 884,1091 889,1090 C894,1089 896,1086 896,1082 C897,1072 898,1062 900,1054 C903,1046 905,1040 908,1034 C914,1020 920,1006 924,996 C930,982 936,970 940,960 C943,952 946,944 948,930 Z" fill="#0D0907" filter="url(#pb1)"/>
<path d="M884,940 C883,980 884,1020 880,1052 C885,1020 900,990 920,960 C925,950 930,944 932,936 Z" fill="#241A14" opacity="0.6" filter="url(#pb3)"/>
<path d="M885,1078 C887,1083 890,1085 893,1083" stroke="#4A4038" stroke-width="1.2" fill="none" filter="url(#pb05)"/>
<path d="M1016,946 L1014.5,965 L1013,990 L1010,1010 L1007,1030 L1005,1050 L1005,1070 L1006,1095 L1008,1115 L1010,1130 L1011,1150 L1012,1168 L1046,1170 L1046,925 Z" fill="#7A6638" opacity="0.3" filter="url(#pb6)" transform="translate(-3 0)"/>
<path d="M1016,946 L1014.5,965 L1013,990 L1010,1010 L1007,1030 L1005,1050 L1005,1070 L1006,1095 L1008,1115 L1010,1130 L1011,1150 L1012,1168 L1046,1170 L1046,925 Z" fill="url(#stripR2)" filter="url(#pb1)"/>
<path d="M929,1071 L936,1070 L934,1074 C940,1080 946,1084 950,1088 C956,1094 960,1098 962,1104 C964,1110 966,1114 972,1116 C980,1118 990,1116 996,1112" fill="none" stroke="#84AEAE" stroke-width="0.9" filter="url(#pb05)"/>
<g fill="#5E90B0" filter="url(#pb05)"><circle cx="955" cy="1033" r="1.1"/><circle cx="973.5" cy="1010" r="0.9"/><circle cx="945" cy="1079" r="1.1"/></g>
<g fill="#A08E6C" filter="url(#pb05)"><circle cx="918" cy="1039" r="0.9"/><circle cx="929" cy="1047" r="0.8"/><circle cx="863" cy="1047" r="0.8"/><circle cx="940" cy="1056" r="0.8"/><circle cx="981" cy="1054" r="0.8"/></g>
</g>
<g id="eqarrows" fill="none" stroke="#808080" stroke-width="8"><path d="M497,1014.4H700"/><path d="M677.5,1000.6L699,1014.4L677.5,1028.2" stroke-linecap="round" stroke-linejoin="miter"/><path d="M706.7,1086H504"/><path d="M526.5,1072.2L504.5,1086L526.5,1100.2" stroke-linecap="round" stroke-linejoin="miter"/></g>
<g id="texts">
<text x="286.70" y="49.70" font-size="41.61" fill="#000" font-style="italic">Multilevel Stimuli-Responsiveness</text>
<text x="376.47" y="196.00" font-size="33.31" fill="#2B94A3">Grinding or Thermal annealing</text>
<text x="528.00" y="271.25" font-size="28.40" fill="#35C9B9">Excited state</text>
<text x="529.17" y="303.75" font-size="28.40" fill="#35C9B9">conformation</text>
<text x="528.35" y="335.75" font-size="28.40" fill="#35C9B9">changes</text>
<text x="558.64" y="422.90" font-size="33.15" fill="#EF5079">Fuming</text>
<text x="517.72" y="579.30" font-size="24.70" fill="#EE5179">Represents the excited</text>
<text x="517.28" y="611.80" font-size="24.70" fill="#EE5179">state conformation of</text>
<text x="516.99" y="646.40" font-size="24.70" fill="#EE5179">4-BZ</text>
<text x="15.25" y="737.50" font-size="24.92" fill="#68D5C4">n-BZ Crystal cyan-blue RTP</text>
<text x="944.68" y="737.50" font-size="24.74" fill="#F2A33F">Orange RTP</text>
<text x="88.34" y="810.50" font-size="33.29" fill="#10BFD8">Highest RTP quantum yield of 25% in organic RTP elastic crystal</text>
<text x="299.74" y="888.80" font-size="41.60" fill="#000" font-style="italic">An elastic organic RTP crystal</text>
<text x="26.00" y="1035.90" font-size="32.60" fill="#DA940F">Straight</text>
<text x="14.53" y="1078.20" font-size="32.60" fill="#DA940F">(naturally)</text>
<text x="1066.34" y="1023.50" font-size="32.60" fill="#DA940F">Bent</text>
<text x="1044.45" y="1057.60" font-size="32.60" fill="#DA940F">(external</text>
<text x="1043.72" y="1090.00" font-size="32.60" fill="#DA940F">stress)</text>
</g>
</svg>
</body></html>
